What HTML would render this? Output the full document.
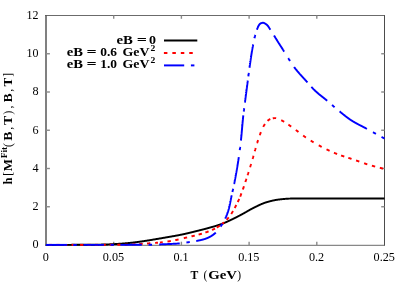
<!DOCTYPE html>
<html><head><meta charset="utf-8"><title>plot</title>
<style>html,body{margin:0;padding:0;background:#fff;overflow:hidden}body{width:407px;height:285px;position:relative;font-family:"Liberation Serif",serif}</style>
</head><body>
<svg width="407" height="285" viewBox="0 0 407 285" style="position:absolute;left:0;top:0;will-change:transform;opacity:0.999"><rect width="407" height="285" fill="#fff"/><g stroke-linecap="butt" fill="none"><line x1="46.0" y1="15.0" x2="46.0" y2="245.5" stroke="#808080" stroke-width="2"/><line x1="45.0" y1="15.5" x2="385.0" y2="15.5" stroke="#5a5a5a" stroke-width="0.9"/><line x1="384.5" y1="15.5" x2="384.5" y2="245.5" stroke="#383838" stroke-width="0.9"/><line x1="45.0" y1="245.3" x2="385.0" y2="245.3" stroke="#5a5a5a" stroke-width="0.9"/><line x1="113.70" y1="245.0" x2="113.70" y2="241.7" stroke="#8a8a8a" stroke-width="1.4"/><line x1="113.70" y1="15.5" x2="113.70" y2="18.8" stroke="#8a8a8a" stroke-width="1.4"/><line x1="181.40" y1="245.0" x2="181.40" y2="241.7" stroke="#8a8a8a" stroke-width="1.4"/><line x1="181.40" y1="15.5" x2="181.40" y2="18.8" stroke="#8a8a8a" stroke-width="1.4"/><line x1="249.10" y1="245.0" x2="249.10" y2="241.7" stroke="#8a8a8a" stroke-width="1.4"/><line x1="249.10" y1="15.5" x2="249.10" y2="18.8" stroke="#8a8a8a" stroke-width="1.4"/><line x1="316.80" y1="245.0" x2="316.80" y2="241.7" stroke="#8a8a8a" stroke-width="1.4"/><line x1="316.80" y1="15.5" x2="316.80" y2="18.8" stroke="#8a8a8a" stroke-width="1.4"/><line x1="46.0" y1="206.75" x2="49.9" y2="206.75" stroke="#8a8a8a" stroke-width="1.4"/><line x1="384.5" y1="206.75" x2="381.2" y2="206.75" stroke="#8a8a8a" stroke-width="1.4"/><line x1="46.0" y1="168.50" x2="49.9" y2="168.50" stroke="#8a8a8a" stroke-width="1.4"/><line x1="384.5" y1="168.50" x2="381.2" y2="168.50" stroke="#8a8a8a" stroke-width="1.4"/><line x1="46.0" y1="130.25" x2="49.9" y2="130.25" stroke="#8a8a8a" stroke-width="1.4"/><line x1="384.5" y1="130.25" x2="381.2" y2="130.25" stroke="#8a8a8a" stroke-width="1.4"/><line x1="46.0" y1="92.00" x2="49.9" y2="92.00" stroke="#8a8a8a" stroke-width="1.4"/><line x1="384.5" y1="92.00" x2="381.2" y2="92.00" stroke="#8a8a8a" stroke-width="1.4"/><line x1="46.0" y1="53.75" x2="49.9" y2="53.75" stroke="#8a8a8a" stroke-width="1.4"/><line x1="384.5" y1="53.75" x2="381.2" y2="53.75" stroke="#8a8a8a" stroke-width="1.4"/></g><g fill="none" stroke-width="1.95" stroke-linejoin="round"><path d="M45.90,244.90 L46.13,244.90 L46.36,244.90 L46.59,244.90 L46.82,244.90 L47.05,244.90 L47.29,244.90 L47.52,244.90 L47.75,244.90 L47.98,244.90 L48.21,244.90 L48.44,244.90 L48.67,244.90 L48.90,244.90 L49.13,244.90 L49.36,244.90 L49.59,244.90 L49.83,244.90 L50.06,244.90 L50.29,244.90 L50.52,244.90 L50.75,244.90 L50.98,244.90 L51.21,244.90 L51.44,244.90 L51.67,244.90 L51.90,244.90 L52.13,244.90 L52.37,244.90 L52.60,244.90 L52.83,244.90 L53.06,244.90 L53.29,244.90 L53.52,244.90 L53.75,244.89 L53.98,244.89 L54.21,244.89 L54.44,244.89 L54.68,244.89 L54.91,244.89 L55.14,244.89 L55.37,244.89 L55.60,244.89 L55.83,244.89 L56.06,244.89 L56.29,244.89 L56.52,244.89 L56.75,244.89 L56.98,244.89 L57.22,244.89 L57.45,244.89 L57.68,244.89 L57.91,244.89 L58.14,244.89 L58.37,244.89 L58.60,244.89 L58.83,244.89 L59.06,244.89 L59.29,244.88 L59.52,244.88 L59.75,244.88 L59.99,244.88 L60.22,244.88 L60.45,244.88 L60.68,244.88 L60.91,244.88 L61.14,244.88 L61.37,244.88 L61.60,244.88 L61.83,244.88 L62.06,244.88 L62.29,244.88 L62.53,244.88 L62.76,244.88 L62.99,244.88 L63.22,244.87 L63.45,244.87 L63.68,244.87 L63.91,244.87 L64.14,244.87 L64.37,244.87 L64.60,244.87 L64.83,244.87 L65.07,244.87 L65.30,244.87 L65.53,244.87 L65.76,244.87 L65.99,244.87 L66.22,244.87 L66.45,244.86 L66.68,244.86 L66.91,244.86 L67.14,244.86 L67.37,244.86 L67.61,244.86 L67.84,244.86 L68.07,244.86 L68.30,244.86 L68.53,244.86 L68.76,244.86 L68.99,244.85 L69.22,244.85 L69.45,244.85 L69.68,244.85 L69.91,244.85 L70.15,244.85 L70.38,244.85 L70.61,244.85 L70.84,244.85 L71.07,244.85 L71.30,244.85 L71.53,244.84 L71.76,244.84 L71.99,244.84 L72.22,244.84 L72.45,244.84 L72.68,244.84 L72.92,244.84 L73.15,244.84 L73.38,244.84 L73.61,244.84 L73.84,244.83 L74.07,244.83 L74.30,244.83 L74.53,244.83 L74.76,244.83 L74.99,244.83 L75.22,244.83 L75.46,244.83 L75.69,244.83 L75.92,244.82 L76.15,244.82 L76.38,244.82 L76.61,244.82 L76.84,244.82 L77.07,244.82 L77.30,244.82 L77.53,244.82 L77.76,244.81 L77.99,244.81 L78.23,244.81 L78.46,244.81 L78.69,244.81 L78.92,244.81 L79.15,244.81 L79.38,244.81 L79.61,244.80 L79.84,244.80 L80.07,244.80 L80.30,244.80 L80.53,244.80 L80.77,244.80 L81.00,244.80 L81.23,244.80 L81.46,244.79 L81.69,244.79 L81.92,244.79 L82.15,244.79 L82.38,244.79 L82.61,244.79 L82.84,244.79 L83.07,244.78 L83.30,244.78 L83.54,244.78 L83.77,244.78 L84.00,244.78 L84.23,244.78 L84.46,244.78 L84.69,244.77 L84.92,244.77 L85.15,244.77 L85.38,244.77 L85.61,244.77 L85.84,244.77 L86.08,244.77 L86.31,244.76 L86.54,244.76 L86.77,244.76 L87.00,244.76 L87.23,244.76 L87.46,244.76 L87.69,244.75 L87.92,244.75 L88.15,244.75 L88.38,244.75 L88.61,244.75 L88.85,244.75 L89.08,244.74 L89.31,244.74 L89.54,244.74 L89.77,244.74 L90.00,244.74 L90.23,244.74 L90.46,244.73 L90.69,244.73 L90.92,244.73 L91.15,244.73 L91.38,244.73 L91.62,244.73 L91.85,244.72 L92.08,244.72 L92.31,244.72 L92.54,244.72 L92.77,244.72 L93.00,244.72 L93.23,244.71 L93.46,244.71 L93.69,244.71 L93.92,244.71 L94.16,244.71 L94.39,244.70 L94.62,244.70 L94.85,244.70 L95.08,244.70 L95.31,244.70 L95.54,244.70 L95.77,244.69 L96.00,244.69 L96.23,244.69 L96.46,244.68 L96.69,244.68 L96.93,244.68 L97.16,244.68 L97.39,244.67 L97.62,244.67 L97.85,244.67 L98.08,244.66 L98.31,244.66 L98.54,244.65 L98.77,244.65 L99.00,244.64 L99.23,244.64 L99.46,244.64 L99.70,244.63 L99.93,244.63 L100.16,244.62 L100.39,244.62 L100.62,244.61 L100.85,244.61 L101.08,244.60 L101.31,244.59 L101.54,244.59 L101.77,244.58 L102.00,244.58 L102.24,244.57 L102.47,244.57 L102.70,244.56 L102.93,244.55 L103.16,244.55 L103.39,244.54 L103.62,244.53 L103.85,244.53 L104.08,244.52 L104.31,244.51 L104.54,244.51 L104.77,244.50 L105.01,244.49 L105.24,244.49 L105.47,244.48 L105.70,244.47 L105.93,244.47 L106.16,244.46 L106.39,244.45 L106.62,244.44 L106.85,244.44 L107.08,244.43 L107.31,244.42 L107.54,244.41 L107.77,244.41 L108.00,244.40 L108.24,244.39 L108.47,244.38 L108.70,244.38 L108.93,244.37 L109.16,244.36 L109.39,244.35 L109.62,244.34 L109.85,244.33 L110.08,244.32 L110.31,244.31 L110.54,244.30 L110.77,244.29 L111.00,244.28 L111.23,244.27 L111.46,244.26 L111.70,244.25 L111.93,244.24 L112.16,244.23 L112.39,244.21 L112.62,244.20 L112.85,244.19 L113.08,244.18 L113.31,244.16 L113.54,244.15 L113.77,244.14 L114.00,244.13 L114.23,244.11 L114.46,244.10 L114.69,244.09 L114.92,244.07 L115.15,244.06 L115.38,244.05 L115.62,244.03 L115.85,244.02 L116.08,244.00 L116.31,243.99 L116.54,243.98 L116.77,243.96 L117.00,243.95 L117.23,243.93 L117.46,243.92 L117.69,243.90 L117.92,243.89 L118.15,243.87 L118.38,243.86 L118.61,243.84 L118.84,243.83 L119.07,243.81 L119.30,243.80 L119.53,243.78 L119.76,243.77 L119.99,243.75 L120.22,243.74 L120.45,243.72 L120.68,243.71 L120.91,243.69 L121.14,243.67 L121.37,243.66 L121.61,243.64 L121.84,243.62 L122.07,243.60 L122.30,243.59 L122.53,243.57 L122.76,243.55 L122.99,243.53 L123.22,243.51 L123.45,243.50 L123.68,243.48 L123.91,243.46 L124.14,243.44 L124.37,243.42 L124.60,243.40 L124.83,243.38 L125.06,243.36 L125.29,243.34 L125.52,243.32 L125.75,243.30 L125.98,243.28 L126.21,243.26 L126.44,243.24 L126.67,243.22 L126.90,243.20 L127.13,243.18 L127.36,243.16 L127.59,243.13 L127.82,243.11 L128.05,243.09 L128.28,243.07 L128.51,243.05 L128.74,243.02 L128.97,243.00 L129.20,242.98 L129.43,242.96 L129.66,242.93 L129.89,242.91 L130.12,242.89 L130.35,242.86 L130.57,242.84 L130.80,242.82 L131.03,242.79 L131.26,242.77 L131.49,242.74 L131.72,242.72 L131.95,242.69 L132.18,242.67 L132.41,242.64 L132.64,242.61 L132.87,242.59 L133.10,242.56 L133.33,242.53 L133.56,242.50 L133.79,242.48 L134.02,242.45 L134.24,242.42 L134.47,242.39 L134.70,242.36 L134.93,242.33 L135.16,242.30 L135.39,242.27 L135.62,242.25 L135.85,242.22 L136.08,242.19 L136.31,242.16 L136.54,242.13 L136.76,242.10 L136.99,242.07 L137.22,242.04 L137.45,242.01 L137.68,241.98 L137.91,241.95 L138.14,241.91 L138.37,241.88 L138.60,241.85 L138.82,241.82 L139.05,241.79 L139.28,241.76 L139.51,241.73 L139.74,241.70 L139.97,241.67 L140.20,241.64 L140.43,241.61 L140.65,241.57 L140.88,241.54 L141.11,241.51 L141.34,241.48 L141.57,241.44 L141.80,241.41 L142.03,241.38 L142.25,241.35 L142.48,241.31 L142.71,241.28 L142.94,241.25 L143.17,241.21 L143.40,241.18 L143.63,241.14 L143.85,241.11 L144.08,241.08 L144.31,241.04 L144.54,241.01 L144.77,240.97 L145.00,240.94 L145.22,240.90 L145.45,240.87 L145.68,240.83 L145.91,240.80 L146.14,240.76 L146.36,240.73 L146.59,240.69 L146.82,240.66 L147.05,240.62 L147.28,240.59 L147.51,240.55 L147.73,240.52 L147.96,240.48 L148.19,240.44 L148.42,240.41 L148.65,240.37 L148.87,240.34 L149.10,240.30 L149.33,240.26 L149.56,240.23 L149.79,240.19 L150.01,240.15 L150.24,240.11 L150.47,240.08 L150.70,240.04 L150.92,240.00 L151.15,239.96 L151.38,239.93 L151.61,239.89 L151.84,239.85 L152.06,239.81 L152.29,239.77 L152.52,239.73 L152.75,239.70 L152.97,239.66 L153.20,239.62 L153.43,239.58 L153.66,239.54 L153.88,239.50 L154.11,239.47 L154.34,239.43 L154.57,239.39 L154.80,239.35 L155.02,239.31 L155.25,239.27 L155.48,239.23 L155.71,239.19 L155.93,239.15 L156.16,239.12 L156.39,239.08 L156.62,239.04 L156.84,239.00 L157.07,238.96 L157.30,238.92 L157.53,238.88 L157.75,238.84 L157.98,238.81 L158.21,238.77 L158.44,238.73 L158.66,238.69 L158.89,238.65 L159.12,238.61 L159.35,238.57 L159.57,238.53 L159.80,238.50 L160.03,238.46 L160.26,238.42 L160.49,238.38 L160.71,238.34 L160.94,238.30 L161.17,238.26 L161.40,238.22 L161.62,238.18 L161.85,238.14 L162.08,238.10 L162.31,238.07 L162.53,238.03 L162.76,237.99 L162.99,237.95 L163.22,237.91 L163.44,237.87 L163.67,237.83 L163.90,237.79 L164.13,237.75 L164.35,237.71 L164.58,237.67 L164.81,237.63 L165.03,237.59 L165.26,237.55 L165.49,237.51 L165.72,237.47 L165.95,237.43 L166.17,237.39 L166.40,237.35 L166.63,237.31 L166.86,237.27 L167.08,237.23 L167.31,237.19 L167.54,237.16 L167.77,237.12 L167.99,237.08 L168.22,237.04 L168.45,237.00 L168.68,236.96 L168.90,236.92 L169.13,236.88 L169.36,236.84 L169.59,236.80 L169.81,236.76 L170.04,236.73 L170.27,236.69 L170.50,236.65 L170.73,236.61 L170.95,236.57 L171.18,236.53 L171.41,236.49 L171.64,236.45 L171.86,236.41 L172.09,236.37 L172.32,236.33 L172.55,236.29 L172.77,236.25 L173.00,236.21 L173.23,236.17 L173.46,236.13 L173.68,236.09 L173.91,236.05 L174.14,236.01 L174.37,235.97 L174.59,235.93 L174.82,235.89 L175.05,235.85 L175.28,235.81 L175.50,235.77 L175.73,235.73 L175.96,235.69 L176.18,235.65 L176.41,235.60 L176.64,235.56 L176.87,235.52 L177.09,235.48 L177.32,235.44 L177.55,235.39 L177.77,235.35 L178.00,235.31 L178.23,235.27 L178.45,235.22 L178.68,235.18 L178.91,235.14 L179.13,235.09 L179.36,235.05 L179.59,235.00 L179.81,234.96 L180.04,234.91 L180.27,234.87 L180.49,234.82 L180.72,234.78 L180.94,234.73 L181.17,234.69 L181.40,234.64 L181.62,234.60 L181.85,234.55 L182.07,234.50 L182.30,234.45 L182.52,234.41 L182.75,234.36 L182.98,234.31 L183.20,234.26 L183.43,234.21 L183.65,234.17 L183.88,234.12 L184.10,234.07 L184.33,234.02 L184.55,233.97 L184.78,233.92 L185.00,233.87 L185.23,233.82 L185.46,233.77 L185.68,233.71 L185.91,233.66 L186.13,233.61 L186.36,233.56 L186.58,233.51 L186.81,233.46 L187.03,233.40 L187.26,233.35 L187.48,233.30 L187.70,233.25 L187.93,233.19 L188.15,233.14 L188.38,233.09 L188.60,233.03 L188.83,232.98 L189.05,232.93 L189.28,232.87 L189.50,232.82 L189.73,232.76 L189.95,232.71 L190.18,232.65 L190.40,232.60 L190.62,232.54 L190.85,232.49 L191.07,232.43 L191.30,232.38 L191.52,232.32 L191.75,232.27 L191.97,232.21 L192.19,232.16 L192.42,232.10 L192.64,232.05 L192.87,231.99 L193.09,231.93 L193.32,231.88 L193.54,231.82 L193.76,231.77 L193.99,231.71 L194.21,231.65 L194.44,231.60 L194.66,231.54 L194.88,231.48 L195.11,231.43 L195.33,231.37 L195.56,231.32 L195.78,231.26 L196.00,231.20 L196.23,231.15 L196.45,231.09 L196.68,231.03 L196.90,230.98 L197.12,230.92 L197.35,230.86 L197.57,230.81 L197.80,230.75 L198.02,230.70 L198.24,230.64 L198.47,230.58 L198.69,230.53 L198.92,230.47 L199.14,230.42 L199.36,230.36 L199.59,230.30 L199.81,230.25 L200.03,230.19 L200.26,230.13 L200.48,230.08 L200.71,230.02 L200.93,229.97 L201.15,229.91 L201.38,229.85 L201.60,229.80 L201.83,229.74 L202.05,229.68 L202.27,229.63 L202.50,229.57 L202.72,229.51 L202.95,229.46 L203.17,229.40 L203.39,229.34 L203.62,229.29 L203.84,229.23 L204.07,229.17 L204.29,229.11 L204.51,229.06 L204.74,229.00 L204.96,228.94 L205.18,228.88 L205.41,228.82 L205.63,228.77 L205.85,228.71 L206.08,228.65 L206.30,228.59 L206.52,228.53 L206.75,228.47 L206.97,228.41 L207.19,228.35 L207.42,228.29 L207.64,228.23 L207.86,228.17 L208.08,228.11 L208.31,228.05 L208.53,227.99 L208.75,227.93 L208.98,227.87 L209.20,227.81 L209.42,227.75 L209.64,227.68 L209.86,227.62 L210.09,227.56 L210.31,227.50 L210.53,227.43 L210.75,227.37 L210.97,227.31 L211.20,227.24 L211.42,227.18 L211.64,227.12 L211.86,227.05 L212.08,226.99 L212.31,226.92 L212.53,226.86 L212.75,226.80 L212.97,226.73 L213.19,226.67 L213.42,226.60 L213.64,226.54 L213.86,226.47 L214.08,226.41 L214.30,226.34 L214.53,226.28 L214.75,226.21 L214.97,226.14 L215.19,226.08 L215.41,226.01 L215.63,225.94 L215.86,225.88 L216.08,225.81 L216.30,225.74 L216.52,225.67 L216.74,225.60 L216.96,225.54 L217.18,225.47 L217.40,225.40 L217.62,225.33 L217.84,225.26 L218.06,225.19 L218.28,225.11 L218.50,225.04 L218.72,224.97 L218.94,224.90 L219.16,224.83 L219.38,224.75 L219.60,224.68 L219.81,224.60 L220.03,224.53 L220.25,224.45 L220.47,224.38 L220.68,224.30 L220.90,224.23 L221.12,224.15 L221.34,224.07 L221.55,223.99 L221.77,223.91 L221.98,223.83 L222.20,223.75 L222.41,223.67 L222.63,223.59 L222.84,223.50 L223.06,223.42 L223.27,223.34 L223.48,223.25 L223.70,223.16 L223.91,223.08 L224.13,222.99 L224.34,222.90 L224.55,222.81 L224.76,222.72 L224.98,222.63 L225.19,222.54 L225.40,222.45 L225.61,222.36 L225.82,222.26 L226.04,222.17 L226.25,222.08 L226.46,221.98 L226.67,221.89 L226.88,221.79 L227.09,221.70 L227.30,221.60 L227.51,221.51 L227.72,221.41 L227.93,221.31 L228.14,221.22 L228.35,221.12 L228.56,221.02 L228.77,220.92 L228.98,220.83 L229.19,220.73 L229.40,220.63 L229.61,220.53 L229.82,220.43 L230.03,220.33 L230.24,220.24 L230.45,220.14 L230.66,220.04 L230.87,219.94 L231.07,219.84 L231.28,219.74 L231.49,219.64 L231.70,219.54 L231.91,219.44 L232.12,219.34 L232.33,219.25 L232.53,219.15 L232.74,219.05 L232.95,218.95 L233.16,218.84 L233.36,218.74 L233.57,218.64 L233.78,218.54 L233.99,218.44 L234.19,218.34 L234.40,218.23 L234.61,218.13 L234.81,218.03 L235.02,217.92 L235.22,217.82 L235.43,217.71 L235.64,217.61 L235.84,217.51 L236.05,217.40 L236.25,217.30 L236.46,217.19 L236.66,217.08 L236.87,216.98 L237.08,216.87 L237.28,216.77 L237.49,216.66 L237.69,216.55 L237.90,216.45 L238.10,216.34 L238.31,216.23 L238.51,216.13 L238.71,216.02 L238.92,215.91 L239.12,215.80 L239.33,215.70 L239.53,215.59 L239.74,215.48 L239.94,215.37 L240.14,215.26 L240.35,215.16 L240.55,215.05 L240.76,214.94 L240.96,214.83 L241.17,214.72 L241.37,214.62 L241.57,214.51 L241.78,214.40 L241.98,214.29 L242.18,214.18 L242.39,214.07 L242.59,213.96 L242.79,213.85 L242.99,213.74 L243.19,213.62 L243.40,213.51 L243.60,213.40 L243.80,213.28 L244.00,213.17 L244.20,213.06 L244.40,212.94 L244.60,212.83 L244.81,212.71 L245.01,212.60 L245.21,212.49 L245.41,212.37 L245.61,212.25 L245.81,212.14 L246.01,212.02 L246.21,211.91 L246.41,211.79 L246.61,211.68 L246.81,211.56 L247.01,211.45 L247.21,211.33 L247.41,211.22 L247.61,211.10 L247.81,210.99 L248.01,210.87 L248.21,210.76 L248.41,210.64 L248.61,210.53 L248.82,210.41 L249.02,210.30 L249.22,210.19 L249.42,210.07 L249.62,209.96 L249.82,209.85 L250.02,209.73 L250.23,209.62 L250.43,209.51 L250.63,209.40 L250.83,209.29 L251.04,209.18 L251.24,209.07 L251.44,208.96 L251.64,208.85 L251.85,208.74 L252.05,208.64 L252.26,208.53 L252.46,208.42 L252.67,208.32 L252.87,208.21 L253.08,208.11 L253.28,208.01 L253.49,207.90 L253.69,207.80 L253.90,207.70 L254.11,207.60 L254.32,207.50 L254.52,207.39 L254.73,207.29 L254.94,207.19 L255.14,207.09 L255.35,206.98 L255.56,206.88 L255.77,206.78 L255.97,206.67 L256.18,206.57 L256.39,206.47 L256.60,206.37 L256.81,206.26 L257.02,206.16 L257.22,206.06 L257.43,205.96 L257.64,205.85 L257.85,205.75 L258.06,205.65 L258.27,205.55 L258.48,205.45 L258.69,205.35 L258.90,205.25 L259.11,205.15 L259.32,205.05 L259.53,204.95 L259.74,204.85 L259.95,204.76 L260.16,204.66 L260.38,204.56 L260.59,204.47 L260.80,204.37 L261.01,204.28 L261.22,204.19 L261.44,204.10 L261.65,204.00 L261.86,203.91 L262.08,203.82 L262.29,203.74 L262.50,203.65 L262.72,203.56 L262.93,203.48 L263.14,203.39 L263.36,203.31 L263.57,203.23 L263.79,203.15 L264.00,203.07 L264.22,202.99 L264.44,202.91 L264.65,202.84 L264.87,202.76 L265.09,202.69 L265.30,202.62 L265.52,202.55 L265.74,202.48 L265.96,202.41 L266.17,202.35 L266.39,202.28 L266.61,202.22 L266.83,202.15 L267.05,202.09 L267.27,202.02 L267.49,201.96 L267.71,201.90 L267.93,201.83 L268.16,201.77 L268.38,201.71 L268.60,201.64 L268.82,201.58 L269.05,201.52 L269.27,201.46 L269.49,201.40 L269.72,201.34 L269.94,201.28 L270.16,201.22 L270.39,201.16 L270.61,201.11 L270.84,201.05 L271.06,200.99 L271.29,200.94 L271.52,200.88 L271.74,200.83 L271.97,200.77 L272.19,200.72 L272.42,200.67 L272.65,200.61 L272.87,200.56 L273.10,200.51 L273.33,200.46 L273.55,200.41 L273.78,200.36 L274.01,200.32 L274.24,200.27 L274.46,200.23 L274.69,200.18 L274.92,200.14 L275.15,200.09 L275.37,200.05 L275.60,200.01 L275.83,199.97 L276.06,199.93 L276.29,199.89 L276.51,199.86 L276.74,199.82 L276.97,199.78 L277.20,199.75 L277.43,199.72 L277.65,199.68 L277.88,199.65 L278.11,199.62 L278.34,199.60 L278.56,199.57 L278.79,199.54 L279.02,199.51 L279.25,199.48 L279.48,199.46 L279.70,199.43 L279.93,199.40 L280.16,199.38 L280.39,199.35 L280.62,199.32 L280.85,199.30 L281.08,199.27 L281.31,199.25 L281.54,199.22 L281.77,199.20 L282.00,199.17 L282.23,199.15 L282.46,199.13 L282.69,199.10 L282.92,199.08 L283.15,199.06 L283.38,199.04 L283.61,199.01 L283.84,198.99 L284.07,198.97 L284.30,198.95 L284.53,198.93 L284.76,198.91 L284.99,198.89 L285.22,198.87 L285.45,198.86 L285.68,198.84 L285.92,198.82 L286.15,198.80 L286.38,198.79 L286.61,198.77 L286.84,198.76 L287.07,198.74 L287.30,198.73 L287.53,198.71 L287.76,198.70 L287.99,198.69 L288.22,198.67 L288.45,198.66 L288.69,198.65 L288.92,198.64 L289.15,198.63 L289.38,198.62 L289.61,198.61 L289.84,198.61 L290.07,198.60 L290.30,198.59 L290.53,198.58 L290.76,198.58 L290.99,198.57 L291.22,198.56 L291.45,198.55 L291.68,198.55 L291.91,198.54 L292.14,198.53 L292.38,198.53 L292.61,198.52 L292.84,198.51 L293.07,198.51 L293.30,198.50 L293.53,198.50 L293.76,198.49 L293.99,198.48 L294.22,198.48 L294.45,198.47 L294.68,198.47 L294.91,198.46 L295.15,198.46 L295.38,198.45 L295.61,198.45 L295.84,198.44 L296.07,198.44 L296.30,198.43 L296.53,198.43 L296.76,198.43 L296.99,198.42 L297.22,198.42 L297.46,198.42 L297.69,198.41 L297.92,198.41 L298.15,198.41 L298.38,198.41 L298.61,198.41 L298.84,198.40 L299.07,198.40 L299.30,198.40 L299.53,198.40 L299.76,198.40 L300.00,198.40 L300.23,198.40 L300.46,198.40 L300.69,198.40 L300.92,198.40 L301.15,198.40 L301.38,198.40 L301.61,198.40 L301.84,198.40 L302.07,198.40 L302.30,198.40 L302.53,198.40 L302.77,198.40 L303.00,198.40 L303.23,198.40 L303.46,198.40 L303.69,198.40 L303.92,198.40 L304.15,198.40 L304.38,198.40 L304.61,198.40 L304.84,198.40 L305.07,198.40 L305.31,198.40 L305.54,198.40 L305.77,198.40 L306.00,198.40 L306.23,198.40 L306.46,198.40 L306.69,198.40 L306.92,198.40 L307.15,198.40 L307.38,198.40 L307.61,198.40 L307.85,198.40 L308.08,198.40 L308.31,198.40 L308.54,198.40 L308.77,198.40 L309.00,198.40 L309.23,198.40 L309.46,198.40 L309.69,198.40 L309.92,198.40 L310.15,198.40 L310.38,198.40 L310.62,198.40 L310.85,198.40 L311.08,198.40 L311.31,198.40 L311.54,198.40 L311.77,198.40 L312.00,198.40 L312.23,198.40 L312.46,198.40 L312.69,198.40 L312.92,198.40 L313.16,198.40 L313.39,198.40 L313.62,198.40 L313.85,198.40 L314.08,198.40 L314.31,198.40 L314.54,198.40 L314.77,198.40 L315.00,198.40 L315.23,198.40 L315.46,198.40 L315.70,198.40 L315.93,198.40 L316.16,198.40 L316.39,198.40 L316.62,198.40 L316.85,198.40 L317.08,198.40 L317.31,198.40 L317.54,198.40 L317.77,198.40 L318.00,198.40 L318.23,198.40 L318.47,198.40 L318.70,198.40 L318.93,198.40 L319.16,198.40 L319.39,198.40 L319.62,198.40 L319.85,198.40 L320.08,198.40 L320.31,198.40 L320.54,198.40 L320.77,198.40 L321.01,198.40 L321.24,198.40 L321.47,198.40 L321.70,198.40 L321.93,198.40 L322.16,198.40 L322.39,198.40 L322.62,198.40 L322.85,198.40 L323.08,198.40 L323.31,198.40 L323.55,198.40 L323.78,198.40 L324.01,198.40 L324.24,198.40 L324.47,198.40 L324.70,198.40 L324.93,198.40 L325.16,198.40 L325.39,198.40 L325.62,198.40 L325.85,198.40 L326.09,198.40 L326.32,198.40 L326.55,198.40 L326.78,198.40 L327.01,198.40 L327.24,198.40 L327.47,198.40 L327.70,198.40 L327.93,198.40 L328.16,198.40 L328.39,198.40 L328.63,198.40 L328.86,198.40 L329.09,198.40 L329.32,198.40 L329.55,198.40 L329.78,198.40 L330.01,198.40 L330.24,198.40 L330.47,198.40 L330.70,198.40 L330.93,198.40 L331.16,198.40 L331.40,198.40 L331.63,198.40 L331.86,198.40 L332.09,198.40 L332.32,198.40 L332.55,198.40 L332.78,198.40 L333.01,198.40 L333.24,198.40 L333.47,198.40 L333.70,198.40 L333.94,198.40 L334.17,198.40 L334.40,198.40 L334.63,198.40 L334.86,198.40 L335.09,198.40 L335.32,198.40 L335.55,198.40 L335.78,198.40 L336.01,198.40 L336.24,198.40 L336.48,198.40 L336.71,198.40 L336.94,198.40 L337.17,198.40 L337.40,198.40 L337.63,198.40 L337.86,198.40 L338.09,198.40 L338.32,198.40 L338.55,198.40 L338.78,198.40 L339.02,198.40 L339.25,198.40 L339.48,198.40 L339.71,198.40 L339.94,198.40 L340.17,198.40 L340.40,198.40 L340.63,198.40 L340.86,198.40 L341.09,198.40 L341.32,198.40 L341.56,198.40 L341.79,198.40 L342.02,198.40 L342.25,198.40 L342.48,198.40 L342.71,198.40 L342.94,198.40 L343.17,198.40 L343.40,198.40 L343.63,198.40 L343.86,198.40 L344.09,198.40 L344.33,198.40 L344.56,198.40 L344.79,198.40 L345.02,198.40 L345.25,198.40 L345.48,198.40 L345.71,198.40 L345.94,198.40 L346.17,198.40 L346.40,198.40 L346.63,198.40 L346.87,198.40 L347.10,198.40 L347.33,198.40 L347.56,198.40 L347.79,198.40 L348.02,198.40 L348.25,198.40 L348.48,198.40 L348.71,198.40 L348.94,198.40 L349.17,198.40 L349.41,198.40 L349.64,198.40 L349.87,198.40 L350.10,198.40 L350.33,198.40 L350.56,198.40 L350.79,198.40 L351.02,198.40 L351.25,198.40 L351.48,198.40 L351.71,198.40 L351.94,198.40 L352.18,198.40 L352.41,198.40 L352.64,198.40 L352.87,198.40 L353.10,198.40 L353.33,198.40 L353.56,198.40 L353.79,198.40 L354.02,198.40 L354.25,198.40 L354.48,198.40 L354.72,198.40 L354.95,198.40 L355.18,198.40 L355.41,198.40 L355.64,198.40 L355.87,198.40 L356.10,198.40 L356.33,198.40 L356.56,198.40 L356.79,198.40 L357.02,198.40 L357.26,198.40 L357.49,198.40 L357.72,198.40 L357.95,198.40 L358.18,198.40 L358.41,198.40 L358.64,198.40 L358.87,198.40 L359.10,198.40 L359.33,198.40 L359.56,198.40 L359.80,198.40 L360.03,198.40 L360.26,198.40 L360.49,198.40 L360.72,198.40 L360.95,198.40 L361.18,198.40 L361.41,198.40 L361.64,198.40 L361.87,198.40 L362.10,198.40 L362.33,198.40 L362.57,198.40 L362.80,198.40 L363.03,198.40 L363.26,198.40 L363.49,198.40 L363.72,198.40 L363.95,198.40 L364.18,198.40 L364.41,198.40 L364.64,198.40 L364.87,198.40 L365.11,198.40 L365.34,198.40 L365.57,198.40 L365.80,198.40 L366.03,198.40 L366.26,198.40 L366.49,198.40 L366.72,198.40 L366.95,198.40 L367.18,198.40 L367.41,198.40 L367.65,198.40 L367.88,198.40 L368.11,198.40 L368.34,198.40 L368.57,198.40 L368.80,198.40 L369.03,198.40 L369.26,198.40 L369.49,198.40 L369.72,198.40 L369.95,198.40 L370.19,198.40 L370.42,198.40 L370.65,198.40 L370.88,198.40 L371.11,198.40 L371.34,198.40 L371.57,198.40 L371.80,198.40 L372.03,198.40 L372.26,198.40 L372.49,198.40 L372.72,198.40 L372.96,198.40 L373.19,198.40 L373.42,198.40 L373.65,198.40 L373.88,198.40 L374.11,198.40 L374.34,198.40 L374.57,198.40 L374.80,198.40 L375.03,198.40 L375.26,198.40 L375.50,198.40 L375.73,198.40 L375.96,198.40 L376.19,198.40 L376.42,198.40 L376.65,198.40 L376.88,198.40 L377.11,198.40 L377.34,198.40 L377.57,198.40 L377.80,198.40 L378.04,198.40 L378.27,198.40 L378.50,198.40 L378.73,198.40 L378.96,198.40 L379.19,198.40 L379.42,198.40 L379.65,198.40 L379.88,198.40 L380.11,198.40 L380.34,198.40 L380.57,198.40 L380.81,198.40 L381.04,198.40 L381.27,198.40 L381.50,198.40 L381.73,198.40 L381.96,198.40 L382.19,198.40 L382.42,198.40 L382.65,198.40 L382.88,198.40 L383.11,198.40 L383.35,198.40 L383.58,198.40 L383.81,198.40 L384.04,198.40 L384.27,198.40 L384.50,198.40" stroke="#000"/><g stroke="#ff0000"><path d="M48.73,244.90 L49.01,244.90 L49.29,244.90 L49.57,244.90 L49.86,244.90 L50.14,244.90 L50.42,244.90 L50.70,244.90 L50.99,244.90 L51.27,244.90 L51.55,244.90 L51.83,244.90 L52.12,244.90"/><path d="M56.35,244.90 L56.64,244.90 L56.92,244.90 L57.20,244.90 L57.48,244.90 L57.77,244.90 L58.05,244.90 L58.33,244.90 L58.61,244.90 L58.90,244.90 L59.18,244.90 L59.46,244.90 L59.74,244.90"/><path d="M63.98,244.90 L64.26,244.90 L64.55,244.90 L64.83,244.90 L65.11,244.90 L65.39,244.90 L65.68,244.90 L65.96,244.89 L66.24,244.89 L66.52,244.89 L66.81,244.89 L67.09,244.89 L67.37,244.89"/><path d="M71.61,244.89 L71.89,244.89 L72.17,244.89 L72.45,244.89 L72.74,244.89 L73.02,244.89 L73.30,244.89 L73.58,244.89 L73.87,244.89 L74.15,244.89 L74.43,244.89 L74.71,244.89 L75.00,244.89"/><path d="M80.08,244.88 L80.36,244.88 L80.64,244.88 L80.93,244.88 L81.21,244.88 L81.49,244.88 L81.77,244.88 L82.06,244.88 L82.34,244.88 L82.62,244.88 L82.90,244.88 L83.19,244.88 L83.47,244.88"/><path d="M87.42,244.87 L87.70,244.87 L87.99,244.87 L88.27,244.87 L88.55,244.87 L88.83,244.87 L89.12,244.87 L89.40,244.87 L89.68,244.87 L89.96,244.87 L90.25,244.87 L90.53,244.87 L90.81,244.87"/><path d="M94.76,244.86 L95.05,244.86 L95.33,244.86 L95.61,244.86 L95.89,244.86 L96.18,244.86 L96.46,244.86 L96.74,244.86 L97.02,244.86 L97.31,244.86 L97.59,244.86 L97.87,244.86 L98.15,244.86"/><path d="M102.39,244.85 L102.67,244.85 L102.95,244.85 L103.24,244.85 L103.52,244.85 L103.80,244.84 L104.08,244.84 L104.36,244.84 L104.65,244.84 L104.93,244.84 L105.21,244.84 L105.49,244.84 L105.78,244.84"/><path d="M109.73,244.83 L110.01,244.83 L110.29,244.83 L110.58,244.83 L110.86,244.83 L111.14,244.83 L111.42,244.83 L111.71,244.82 L111.99,244.82 L112.27,244.82 L112.55,244.82 L112.83,244.82 L113.12,244.82"/><path d="M117.35,244.81 L117.63,244.81 L117.92,244.81 L118.20,244.81 L118.48,244.80 L118.76,244.80 L119.05,244.80 L119.33,244.80 L119.61,244.80 L119.89,244.80 L120.18,244.80 L120.46,244.80 L120.74,244.80"/><path d="M124.69,244.72 L124.98,244.71 L125.26,244.71 L125.54,244.70 L125.82,244.69 L126.10,244.68 L126.39,244.67 L126.67,244.66 L126.95,244.65 L127.23,244.64 L127.52,244.63 L127.80,244.62 L128.08,244.61"/><path d="M132.03,244.44 L132.31,244.42 L132.60,244.41 L132.88,244.40 L133.16,244.38 L133.44,244.37 L133.72,244.36 L134.01,244.35 L134.29,244.33 L134.57,244.32 L134.85,244.31 L135.14,244.29 L135.42,244.28"/><path d="M139.36,244.05 L139.65,244.03 L139.93,244.01 L140.21,244.00 L140.49,243.98 L140.77,243.96 L141.05,243.94 L141.34,243.92 L141.62,243.90 L141.90,243.88 L142.18,243.86 L142.46,243.83 L142.74,243.81"/><path d="M146.97,243.50 L147.25,243.48 L147.53,243.46 L147.82,243.44 L148.10,243.42 L148.38,243.40 L148.66,243.38 L148.94,243.36 L149.22,243.34 L149.51,243.32 L149.79,243.30 L150.07,243.28 L150.35,243.26"/><path d="M155.14,242.92 L155.42,242.90 L155.71,242.87 L155.99,242.85 L156.27,242.83 L156.55,242.81 L156.83,242.78 L157.11,242.76 L157.39,242.74 L157.68,242.71 L157.96,242.69"/><path d="M159.92,242.51 L160.21,242.48 L160.49,242.45 L160.77,242.42 L161.05,242.40 L161.33,242.37 L161.61,242.34 L161.89,242.30 L162.17,242.27 L162.45,242.24 L162.73,242.20"/><path d="M167.49,241.53 L167.77,241.49 L168.04,241.45 L168.32,241.40 L168.60,241.36 L168.88,241.31 L169.16,241.27 L169.44,241.23 L169.72,241.18 L170.00,241.14 L170.28,241.09 L170.55,241.04 L170.83,241.00"/><path d="M175.27,240.17 L175.55,240.11 L175.83,240.05 L176.10,240.00 L176.38,239.94 L176.66,239.88 L176.93,239.82 L177.21,239.76 L177.48,239.70 L177.76,239.63 L178.03,239.57 L178.31,239.51 L178.58,239.45"/><path d="M183.80,238.19 L184.08,238.12 L184.35,238.05 L184.63,237.99 L184.90,237.92 L185.18,237.86 L185.45,237.79 L185.73,237.73 L186.00,237.66 L186.28,237.60 L186.55,237.54 L186.83,237.47 L187.10,237.41"/><path d="M191.50,236.39 L191.78,236.32 L192.05,236.26 L192.33,236.19 L192.60,236.13 L192.88,236.06 L193.15,235.99 L193.43,235.93 L193.70,235.86 L193.98,235.79 L194.25,235.72 L194.52,235.66 L194.80,235.59"/><path d="M198.62,234.58 L198.89,234.51 L199.17,234.43 L199.44,234.36 L199.71,234.28 L199.98,234.20 L200.26,234.13 L200.53,234.05 L200.80,233.97 L201.07,233.89 L201.34,233.81 L201.61,233.74 L201.89,233.65"/><path d="M205.38,232.54 L205.64,232.45 L205.91,232.35 L206.18,232.26 L206.45,232.17 L206.71,232.07 L206.98,231.98 L207.25,231.88 L207.51,231.78 L207.78,231.68 L208.05,231.59 L208.31,231.49 L208.58,231.38"/><path d="M211.97,229.98 L212.23,229.86 L212.48,229.74 L212.74,229.63 L212.99,229.51 L213.24,229.38 L213.49,229.26 L213.74,229.14 L214.00,229.01 L214.25,228.89 L214.50,228.76 L214.75,228.63 L215.01,228.49"/><path d="M216.75,227.53 L217.00,227.39 L217.25,227.25 L217.49,227.10 L217.74,226.96 L217.98,226.81 L218.23,226.66 L218.47,226.51 L218.71,226.36 L218.95,226.20 L219.19,226.05 L219.42,225.89 L219.66,225.74"/><path d="M221.49,224.44 L221.71,224.27 L221.93,224.10 L222.14,223.93 L222.36,223.76 L222.58,223.58 L222.80,223.40 L223.01,223.22 L223.23,223.04 L223.44,222.86 L223.65,222.67 L223.87,222.48 L224.08,222.29"/><path d="M226.53,219.89 L226.73,219.68 L226.92,219.47 L227.11,219.26 L227.30,219.05 L227.49,218.84 L227.68,218.62 L227.86,218.41 L228.05,218.19 L228.23,217.98 L228.41,217.76 L228.58,217.55 L228.76,217.33"/><path d="M231.22,213.94 L231.37,213.71 L231.52,213.47 L231.68,213.23 L231.83,212.99 L231.98,212.75 L232.13,212.51 L232.28,212.27 L232.43,212.03 L232.58,211.79 L232.72,211.54 L232.87,211.30 L233.01,211.05"/><path d="M234.69,208.07 L234.82,207.82 L234.96,207.56 L235.09,207.31 L235.23,207.06 L235.36,206.81 L235.49,206.56 L235.62,206.31 L235.75,206.06 L235.88,205.80 L236.01,205.55 L236.14,205.30 L236.27,205.05"/><path d="M237.77,202.02 L237.89,201.77 L238.01,201.51 L238.12,201.25 L238.24,201.00 L238.36,200.74 L238.48,200.48 L238.60,200.23 L238.71,199.97 L238.83,199.71 L238.94,199.45 L239.06,199.19 L239.17,198.93"/><path d="M240.17,196.59 L240.27,196.32 L240.38,196.06 L240.49,195.80 L240.59,195.54 L240.70,195.28 L240.81,195.01 L240.91,194.75 L241.01,194.49 L241.12,194.23 L241.22,193.96 L241.32,193.70 L241.42,193.44"/><path d="M242.88,189.47 L242.97,189.20 L243.06,188.93 L243.15,188.66 L243.24,188.40 L243.33,188.13 L243.42,187.86 L243.51,187.59 L243.60,187.33 L243.69,187.06 L243.78,186.79 L243.87,186.52 L243.96,186.25"/><path d="M245.36,181.95 L245.45,181.68 L245.54,181.41 L245.63,181.15 L245.71,180.88 L245.80,180.61 L245.89,180.34 L245.98,180.07 L246.06,179.80 L246.15,179.54 L246.24,179.27 L246.33,179.00 L246.42,178.73"/><path d="M247.55,175.24 L247.63,174.97 L247.72,174.70 L247.80,174.43 L247.89,174.16 L247.98,173.89 L248.06,173.62 L248.15,173.35 L248.23,173.08 L248.32,172.82 L248.40,172.55 L248.49,172.28 L248.58,172.01"/><path d="M250.10,167.16 L250.18,166.89 L250.26,166.62 L250.35,166.35 L250.43,166.08 L250.51,165.81 L250.60,165.54 L250.68,165.27 L250.76,165.00 L250.85,164.73 L250.93,164.46 L251.01,164.19 L251.09,163.92"/><path d="M252.56,159.05 L252.64,158.78 L252.71,158.51 L252.79,158.24 L252.87,157.96 L252.95,157.69 L253.03,157.42 L253.10,157.15 L253.18,156.88 L253.26,156.60 L253.33,156.33 L253.41,156.06 L253.49,155.79"/><path d="M254.78,151.16 L254.86,150.89 L254.93,150.62 L255.01,150.35 L255.09,150.07 L255.16,149.80 L255.24,149.53 L255.32,149.26 L255.39,148.99 L255.47,148.71 L255.55,148.44 L255.63,148.17 L255.70,147.90"/><path d="M257.07,143.30 L257.16,143.03 L257.24,142.76 L257.32,142.49 L257.41,142.22 L257.49,141.95 L257.58,141.68 L257.67,141.42 L257.75,141.15 L257.84,140.88 L257.93,140.61 L258.02,140.34 L258.11,140.08"/><path d="M259.73,135.24 L259.83,134.98 L259.92,134.71 L260.02,134.44 L260.12,134.18 L260.21,133.91 L260.31,133.65 L260.41,133.38 L260.51,133.12 L260.61,132.85 L260.71,132.59 L260.81,132.33 L260.92,132.06"/><path d="M263.23,126.89 L263.36,126.64 L263.49,126.38 L263.63,126.13 L263.77,125.88 L263.91,125.63 L264.05,125.38 L264.19,125.14 L264.34,124.90 L264.49,124.66 L264.64,124.43 L264.79,124.20 L264.95,123.97"/><path d="M267.57,120.88 L267.79,120.68 L268.01,120.48 L268.23,120.29 L268.45,120.11 L268.68,119.94 L268.91,119.77 L269.14,119.62 L269.38,119.48 L269.61,119.35 L269.85,119.24 L270.09,119.14 L270.33,119.05"/><path d="M272.78,118.37 L273.06,118.31 L273.35,118.26 L273.64,118.22 L273.93,118.18 L274.22,118.15 L274.50,118.12 L274.78,118.11 L275.05,118.10 L275.32,118.10 L275.60,118.12 L275.87,118.15 L276.14,118.20"/><path d="M281.18,120.25 L281.43,120.36 L281.69,120.48 L281.94,120.60 L282.19,120.72 L282.43,120.85 L282.68,120.98 L282.93,121.11 L283.17,121.24 L283.42,121.38 L283.66,121.52 L283.91,121.66 L284.15,121.80"/><path d="M288.41,124.63 L288.65,124.79 L288.88,124.96 L289.11,125.12 L289.35,125.28 L289.58,125.45 L289.81,125.61 L290.04,125.77 L290.28,125.93 L290.51,126.10 L290.74,126.26 L290.98,126.42 L291.21,126.57"/><path d="M295.77,129.90 L295.99,130.08 L296.22,130.25 L296.44,130.42 L296.67,130.60 L296.89,130.77 L297.11,130.94 L297.34,131.12 L297.56,131.29 L297.78,131.46 L298.01,131.64 L298.23,131.81 L298.45,131.98"/><path d="M303.18,135.57 L303.41,135.74 L303.64,135.90 L303.87,136.07 L304.10,136.23 L304.33,136.39 L304.56,136.56 L304.79,136.72 L305.02,136.88 L305.26,137.03 L305.49,137.19 L305.72,137.35 L305.96,137.50"/><path d="M310.70,140.57 L310.94,140.72 L311.18,140.87 L311.42,141.02 L311.66,141.17 L311.90,141.31 L312.14,141.46 L312.39,141.61 L312.63,141.76 L312.87,141.91 L313.11,142.05 L313.35,142.20 L313.60,142.35"/><path d="M318.74,145.32 L318.99,145.45 L319.23,145.59 L319.48,145.72 L319.73,145.86 L319.98,145.99 L320.23,146.12 L320.47,146.26 L320.72,146.39 L320.97,146.52 L321.22,146.65 L321.47,146.78 L321.72,146.91"/><path d="M326.51,149.33 L326.76,149.46 L327.01,149.58 L327.27,149.70 L327.52,149.83 L327.78,149.95 L328.04,150.07 L328.29,150.19 L328.55,150.31 L328.80,150.43 L329.06,150.55 L329.32,150.67 L329.57,150.79"/><path d="M333.97,152.75 L334.23,152.86 L334.49,152.96 L334.75,153.07 L335.01,153.18 L335.27,153.29 L335.53,153.40 L335.79,153.50 L336.06,153.61 L336.32,153.71 L336.58,153.82 L336.84,153.92 L337.10,154.02"/><path d="M341.07,155.48 L341.33,155.57 L341.60,155.66 L341.87,155.75 L342.14,155.84 L342.40,155.93 L342.67,156.02 L342.94,156.11 L343.21,156.20 L343.48,156.29 L343.74,156.38 L344.01,156.46 L344.28,156.55"/><path d="M348.32,157.84 L348.59,157.93 L348.86,158.02 L349.13,158.10 L349.40,158.19 L349.67,158.27 L349.94,158.36 L350.21,158.45 L350.48,158.53 L350.75,158.62 L351.02,158.71 L351.29,158.80 L351.56,158.89"/><path d="M356.10,160.44 L356.37,160.53 L356.63,160.63 L356.90,160.72 L357.17,160.82 L357.43,160.91 L357.70,161.01 L357.96,161.10 L358.23,161.20 L358.50,161.29 L358.76,161.39 L359.03,161.48 L359.30,161.58"/><path d="M364.10,163.26 L364.36,163.35 L364.63,163.44 L364.90,163.53 L365.17,163.62 L365.43,163.71 L365.70,163.80 L365.97,163.88 L366.24,163.97 L366.51,164.06 L366.78,164.14 L367.04,164.23 L367.31,164.31"/><path d="M371.91,165.68 L372.18,165.75 L372.45,165.83 L372.72,165.91 L373.00,165.98 L373.27,166.06 L373.54,166.13 L373.81,166.21 L374.08,166.29 L374.36,166.36 L374.63,166.43 L374.90,166.51 L375.17,166.58"/><path d="M379.82,167.79 L380.10,167.86 L380.37,167.93 L380.65,167.99 L380.92,168.06 L381.19,168.13 L381.47,168.19 L381.74,168.26 L382.02,168.33 L382.29,168.39 L382.57,168.46 L382.85,168.52 L383.12,168.58"/></g><g stroke="#0000ff"><path d="M45.90,244.90 L46.09,244.90 L46.27,244.90 L46.46,244.90 L46.65,244.90 L46.84,244.90 L47.02,244.90 L47.21,244.90 L47.40,244.90 L47.59,244.90 L47.77,244.90 L47.96,244.90 L48.15,244.90 L48.34,244.90 L48.52,244.90 L48.71,244.90 L48.90,244.90 L49.09,244.90 L49.27,244.90 L49.46,244.90 L49.65,244.90 L49.84,244.90 L50.02,244.90 L50.21,244.90 L50.40,244.90 L50.58,244.90 L50.77,244.90 L50.96,244.90 L51.15,244.90 L51.33,244.90 L51.52,244.90 L51.71,244.90 L51.90,244.90 L52.08,244.90 L52.27,244.90 L52.46,244.90 L52.65,244.90 L52.83,244.90 L53.02,244.90 L53.21,244.90 L53.40,244.90 L53.58,244.90 L53.77,244.90 L53.96,244.90 L54.14,244.90 L54.33,244.90 L54.52,244.90 L54.71,244.90 L54.89,244.90 L55.08,244.90 L55.27,244.90 L55.46,244.90 L55.64,244.90 L55.83,244.90 L56.02,244.90 L56.21,244.90 L56.39,244.90 L56.58,244.90 L56.77,244.90 L56.95,244.90 L57.14,244.90 L57.33,244.90 L57.52,244.90 L57.70,244.90 L57.89,244.90 L58.08,244.90 L58.27,244.90 L58.45,244.90 L58.64,244.90 L58.83,244.90 L59.02,244.90 L59.20,244.90 L59.39,244.90 L59.58,244.90 L59.77,244.90 L59.95,244.90 L60.14,244.90 L60.33,244.90 L60.51,244.90 L60.70,244.90 L60.89,244.90 L61.08,244.90 L61.26,244.90 L61.45,244.90 L61.64,244.90 L61.83,244.90 L62.01,244.90 L62.20,244.90 L62.39,244.90 L62.58,244.90 L62.76,244.90 L62.95,244.90 L63.14,244.90 L63.32,244.90 L63.51,244.90 L63.70,244.90 L63.89,244.90 L64.07,244.90 L64.26,244.90 L64.45,244.90 L64.64,244.90 L64.82,244.90 L65.01,244.90 L65.20,244.90 L65.39,244.90 L65.57,244.90 L65.76,244.90 L65.95,244.90 L66.13,244.90 L66.32,244.90 L66.51,244.90 L66.70,244.90 L66.88,244.90 L67.07,244.90"/><path d="M73.25,244.90 L73.44,244.90 L73.63,244.90 L73.81,244.90 L74.00,244.90 L74.19,244.90 L74.38,244.90 L74.56,244.90 L74.75,244.90 L74.94,244.90 L75.13,244.90 L75.31,244.90 L75.50,244.90 L75.69,244.90 L75.88,244.90 L76.06,244.90 L76.25,244.90 L76.44,244.90 L76.62,244.89 L76.81,244.89"/><path d="M83.55,244.89 L83.74,244.89 L83.93,244.89 L84.12,244.89 L84.30,244.89 L84.49,244.89 L84.68,244.89 L84.86,244.89 L85.05,244.89 L85.24,244.89 L85.43,244.89 L85.61,244.89 L85.80,244.89 L85.99,244.89 L86.18,244.89 L86.36,244.89 L86.55,244.89 L86.74,244.89 L86.93,244.89 L87.11,244.89 L87.30,244.89 L87.49,244.89 L87.67,244.89 L87.86,244.89 L88.05,244.89 L88.24,244.89 L88.42,244.89 L88.61,244.89 L88.80,244.89 L88.99,244.89 L89.17,244.89 L89.36,244.89 L89.55,244.89 L89.73,244.89 L89.92,244.89 L90.11,244.89 L90.30,244.89 L90.48,244.89 L90.67,244.89 L90.86,244.89 L91.04,244.89 L91.23,244.89 L91.42,244.89 L91.61,244.89 L91.79,244.89 L91.98,244.89 L92.17,244.89 L92.36,244.89 L92.54,244.89 L92.73,244.89 L92.92,244.89 L93.10,244.89 L93.29,244.89 L93.48,244.89 L93.67,244.89 L93.85,244.89 L94.04,244.89 L94.23,244.89 L94.42,244.89 L94.60,244.89 L94.79,244.88 L94.98,244.88 L95.16,244.88 L95.35,244.88 L95.54,244.88 L95.73,244.88 L95.91,244.88 L96.10,244.88 L96.29,244.88 L96.48,244.88 L96.66,244.88 L96.85,244.88 L97.04,244.88 L97.22,244.88 L97.41,244.88 L97.60,244.88 L97.79,244.88 L97.97,244.88 L98.16,244.88 L98.35,244.88 L98.54,244.88 L98.72,244.88 L98.91,244.88 L99.10,244.88 L99.28,244.88 L99.47,244.88 L99.66,244.88 L99.85,244.88 L100.03,244.88 L100.22,244.88 L100.41,244.88 L100.59,244.88 L100.78,244.88 L100.97,244.88 L101.16,244.88 L101.34,244.88 L101.53,244.88 L101.72,244.88 L101.91,244.88 L102.09,244.88 L102.28,244.88 L102.47,244.88 L102.65,244.88 L102.84,244.88 L103.03,244.88 L103.22,244.88 L103.40,244.88 L103.59,244.88 L103.78,244.88 L103.97,244.88"/><path d="M110.52,244.87 L110.71,244.87 L110.89,244.87 L111.08,244.87 L111.27,244.87 L111.45,244.87 L111.64,244.87 L111.83,244.87 L112.02,244.87 L112.20,244.87 L112.39,244.87 L112.58,244.87 L112.77,244.87 L112.95,244.87 L113.14,244.87 L113.33,244.87 L113.51,244.87 L113.70,244.87 L113.89,244.87"/><path d="M120.44,244.86 L120.63,244.86 L120.82,244.86 L121.00,244.86 L121.19,244.86 L121.38,244.86 L121.56,244.86 L121.75,244.86 L121.94,244.86 L122.13,244.85 L122.31,244.85 L122.50,244.85 L122.69,244.85 L122.87,244.85 L123.06,244.85 L123.25,244.85 L123.44,244.85 L123.62,244.85 L123.81,244.85 L124.00,244.85 L124.18,244.85 L124.37,244.85 L124.56,244.85 L124.75,244.85 L124.93,244.85 L125.12,244.85 L125.31,244.85 L125.50,244.85 L125.68,244.85 L125.87,244.85 L126.06,244.85 L126.24,244.85 L126.43,244.85 L126.62,244.85 L126.81,244.85 L126.99,244.85 L127.18,244.85 L127.37,244.85 L127.55,244.85 L127.74,244.85 L127.93,244.85 L128.12,244.85 L128.30,244.85 L128.49,244.84 L128.68,244.84 L128.86,244.84 L129.05,244.84 L129.24,244.84 L129.43,244.84 L129.61,244.84 L129.80,244.84 L129.99,244.84 L130.18,244.84 L130.36,244.84 L130.55,244.84 L130.74,244.84 L130.92,244.84 L131.11,244.84 L131.30,244.84 L131.49,244.84 L131.67,244.84 L131.86,244.84 L132.05,244.84 L132.23,244.84 L132.42,244.84 L132.61,244.84 L132.80,244.84 L132.98,244.84 L133.17,244.84 L133.36,244.84 L133.54,244.84 L133.73,244.84 L133.92,244.84 L134.11,244.83 L134.29,244.83 L134.48,244.83 L134.67,244.83 L134.86,244.83 L135.04,244.83 L135.23,244.83 L135.42,244.83 L135.60,244.83 L135.79,244.83 L135.98,244.83 L136.17,244.83 L136.35,244.83 L136.54,244.83 L136.73,244.83 L136.91,244.83 L137.10,244.83 L137.29,244.83 L137.48,244.83 L137.66,244.83 L137.85,244.83 L138.04,244.83 L138.22,244.83 L138.41,244.83 L138.60,244.83 L138.79,244.83 L138.97,244.83 L139.16,244.82 L139.35,244.82 L139.53,244.82 L139.72,244.82 L139.91,244.82 L140.10,244.82 L140.28,244.82 L140.47,244.82 L140.66,244.82 L140.84,244.82 L141.03,244.82 L141.22,244.82 L141.41,244.82 L141.59,244.82 L141.78,244.82"/><path d="M148.52,244.80 L148.71,244.80 L148.89,244.80 L149.08,244.80 L149.27,244.80 L149.45,244.80 L149.64,244.80 L149.83,244.80 L150.02,244.80 L150.20,244.80 L150.39,244.80 L150.58,244.80 L150.76,244.80 L150.95,244.79 L151.14,244.79 L151.33,244.79 L151.51,244.78 L151.70,244.78 L151.89,244.78 L152.08,244.77"/><path d="M159.19,244.47 L159.37,244.46 L159.56,244.45 L159.75,244.44 L159.93,244.43 L160.12,244.43 L160.31,244.42 L160.50,244.41 L160.68,244.40 L160.87,244.39 L161.06,244.38 L161.24,244.37 L161.43,244.36 L161.62,244.35 L161.80,244.34 L161.99,244.33 L162.18,244.32 L162.37,244.32 L162.55,244.31 L162.74,244.30 L162.93,244.29 L163.11,244.28 L163.30,244.27 L163.49,244.27 L163.68,244.26 L163.86,244.25 L164.05,244.24 L164.24,244.23 L164.42,244.23 L164.61,244.22 L164.80,244.21 L164.99,244.20 L165.17,244.19 L165.36,244.19 L165.55,244.18 L165.73,244.17 L165.92,244.16 L166.11,244.15 L166.30,244.15 L166.48,244.14 L166.67,244.13 L166.86,244.12 L167.05,244.12 L167.23,244.11 L167.42,244.10 L167.61,244.09 L167.80,244.08 L167.98,244.08 L168.17,244.07 L168.36,244.06 L168.54,244.05 L168.73,244.04 L168.92,244.04 L169.11,244.03 L169.29,244.02 L169.48,244.01 L169.67,244.00 L169.86,244.00 L170.04,243.99 L170.23,243.98 L170.42,243.97 L170.60,243.96 L170.79,243.95 L170.98,243.94 L171.17,243.94 L171.35,243.93 L171.54,243.92 L171.73,243.91 L171.91,243.90 L172.10,243.89 L172.29,243.88 L172.48,243.87 L172.66,243.86 L172.85,243.85 L173.04,243.84 L173.22,243.84 L173.41,243.83 L173.60,243.82 L173.79,243.81 L173.97,243.80 L174.16,243.79 L174.35,243.78 L174.53,243.77 L174.72,243.75 L174.91,243.74 L175.09,243.73 L175.28,243.72 L175.47,243.71 L175.66,243.70 L175.84,243.69 L176.03,243.68 L176.22,243.67 L176.40,243.66 L176.59,243.64 L176.78,243.63 L176.96,243.62 L177.15,243.61 L177.34,243.60 L177.52,243.58 L177.71,243.57 L177.90,243.56 L178.08,243.54 L178.27,243.53 L178.45,243.52 L178.64,243.50 L178.83,243.49 L179.01,243.48 L179.20,243.46 L179.39,243.45 L179.57,243.43 L179.76,243.42"/><path d="M186.44,242.53 L186.62,242.50 L186.81,242.47 L186.99,242.44 L187.18,242.41 L187.36,242.38 L187.55,242.35 L187.73,242.32 L187.92,242.29 L188.10,242.26 L188.29,242.23 L188.47,242.20 L188.66,242.18 L188.84,242.15 L189.03,242.12 L189.22,242.09 L189.40,242.06 L189.59,242.04 L189.77,242.01"/><path d="M196.25,240.99 L196.44,240.96 L196.62,240.93 L196.81,240.89 L196.99,240.86 L197.17,240.82 L197.36,240.79 L197.54,240.75 L197.72,240.72 L197.91,240.68 L198.09,240.65 L198.27,240.61 L198.46,240.57 L198.64,240.53 L198.82,240.50 L199.00,240.46 L199.19,240.42 L199.37,240.38 L199.55,240.34 L199.74,240.30 L199.92,240.26 L200.10,240.22 L200.29,240.18 L200.47,240.13 L200.66,240.09 L200.84,240.05 L201.02,240.00 L201.21,239.96 L201.39,239.92 L201.58,239.87 L201.76,239.83 L201.95,239.78 L202.13,239.73 L202.31,239.69 L202.50,239.64 L202.68,239.59 L202.86,239.54 L203.04,239.49 L203.23,239.44 L203.41,239.39 L203.59,239.34 L203.77,239.29 L203.95,239.23 L204.13,239.18 L204.31,239.13 L204.49,239.07 L204.67,239.02 L204.85,238.96 L205.03,238.90 L205.20,238.84 L205.38,238.79 L205.56,238.73 L205.73,238.67 L205.91,238.61 L206.08,238.54 L206.25,238.48 L206.43,238.42 L206.60,238.35 L206.77,238.29 L206.94,238.22 L207.11,238.16 L207.28,238.09 L207.45,238.02 L207.62,237.95 L207.79,237.87 L207.95,237.80 L208.12,237.72 L208.29,237.64 L208.46,237.57 L208.63,237.48 L208.80,237.40 L208.97,237.32 L209.14,237.23 L209.31,237.15 L209.48,237.06 L209.64,236.97 L209.81,236.88 L209.98,236.79 L210.15,236.69 L210.31,236.60 L210.48,236.50 L210.65,236.41 L210.81,236.31 L210.98,236.21 L211.14,236.11 L211.30,236.01 L211.47,235.91 L211.63,235.80 L211.79,235.70 L211.95,235.60 L212.11,235.49 L212.27,235.38 L212.43,235.28 L212.59,235.17 L212.74,235.06 L212.90,234.95 L213.06,234.84 L213.21,234.73 L213.36,234.61 L213.52,234.50 L213.67,234.39 L213.82,234.27 L213.97,234.16 L214.11,234.04 L214.26,233.93 L214.40,233.81 L214.55,233.70 L214.69,233.58 L214.83,233.46 L214.97,233.34 L215.11,233.23 L215.25,233.11 L215.39,232.99 L215.52,232.87 L215.65,232.75 L215.79,232.63"/><path d="M220.57,226.61 L220.68,226.45 L220.78,226.29 L220.88,226.14 L220.99,225.98 L221.09,225.82 L221.20,225.66 L221.30,225.51 L221.40,225.35 L221.50,225.20 L221.60,225.04 L221.71,224.88 L221.81,224.73 L221.91,224.57 L222.01,224.41 L222.11,224.26 L222.21,224.10 L222.31,223.94 L222.41,223.78"/><path d="M225.21,218.69 L225.28,218.52 L225.36,218.35 L225.44,218.18 L225.52,218.01 L225.59,217.84 L225.67,217.67 L225.74,217.50 L225.82,217.33 L225.89,217.15 L225.97,216.98 L226.04,216.81 L226.12,216.64 L226.19,216.46 L226.26,216.29 L226.34,216.12 L226.41,215.94 L226.48,215.77 L226.55,215.60 L226.62,215.42 L226.69,215.25 L226.76,215.07 L226.83,214.90 L226.90,214.72 L226.97,214.55 L227.04,214.37 L227.10,214.19 L227.17,214.02 L227.23,213.84 L227.30,213.67 L227.37,213.49 L227.43,213.31 L227.49,213.13 L227.56,212.96 L227.62,212.78 L227.68,212.60 L227.74,212.43 L227.80,212.25 L227.86,212.07 L227.92,211.89 L227.98,211.71 L228.04,211.54 L228.09,211.36 L228.15,211.18 L228.20,211.00 L228.26,210.82 L228.31,210.64 L228.37,210.46 L228.42,210.29 L228.47,210.11 L228.52,209.93 L228.57,209.75 L228.62,209.57 L228.67,209.39 L228.72,209.21 L228.77,209.03 L228.81,208.85 L228.86,208.67 L228.91,208.49 L228.95,208.31 L229.00,208.13 L229.04,207.95 L229.09,207.77 L229.13,207.59 L229.18,207.41 L229.22,207.23 L229.26,207.04 L229.31,206.86 L229.35,206.68 L229.39,206.50 L229.43,206.32 L229.47,206.13 L229.51,205.95 L229.56,205.77 L229.60,205.59 L229.64,205.40 L229.68,205.22 L229.72,205.04 L229.75,204.85 L229.79,204.67 L229.83,204.49 L229.87,204.30 L229.91,204.12 L229.95,203.94 L229.99,203.75 L230.02,203.57 L230.06,203.39 L230.10,203.20 L230.13,203.02 L230.17,202.83 L230.21,202.65 L230.25,202.47 L230.28,202.28 L230.32,202.10 L230.35,201.91 L230.39,201.73 L230.43,201.54 L230.46,201.36 L230.50,201.18 L230.54,200.99 L230.57,200.81 L230.61,200.62 L230.64,200.44 L230.68,200.25 L230.71,200.07 L230.75,199.88 L230.79,199.70 L230.82,199.52 L230.86,199.33 L230.89,199.15 L230.93,198.96 L230.97,198.78 L231.00,198.59 L231.04,198.41 L231.08,198.22 L231.11,198.04 L231.15,197.86 L231.19,197.67 L231.22,197.49 L231.26,197.30 L231.30,197.12 L231.33,196.94 L231.37,196.75 L231.41,196.57 L231.45,196.38 L231.49,196.20 L231.53,196.02 L231.56,195.83 L231.60,195.65 L231.64,195.47 L231.68,195.28"/><path d="M232.41,191.99 L232.45,191.81 L232.49,191.63 L232.54,191.45 L232.58,191.26 L232.62,191.08 L232.66,190.90 L232.70,190.71 L232.74,190.53 L232.78,190.35 L232.82,190.17 L232.86,189.98 L232.91,189.80 L232.95,189.62 L232.99,189.44 L233.03,189.25 L233.07,189.07 L233.11,188.89 L233.15,188.70"/><path d="M234.11,184.12 L234.15,183.94 L234.19,183.76 L234.22,183.57 L234.26,183.39 L234.30,183.21 L234.33,183.02 L234.37,182.84 L234.40,182.65 L234.44,182.47 L234.47,182.29 L234.51,182.10 L234.55,181.92 L234.58,181.74 L234.62,181.55 L234.65,181.37 L234.69,181.18 L234.72,181.00 L234.76,180.82 L234.79,180.63 L234.83,180.45 L234.86,180.27 L234.90,180.08 L234.93,179.90 L234.97,179.71 L235.00,179.53 L235.04,179.35 L235.07,179.16 L235.11,178.98 L235.14,178.79 L235.18,178.61 L235.21,178.43 L235.25,178.24 L235.28,178.06 L235.32,177.87 L235.35,177.69 L235.39,177.51 L235.42,177.32 L235.46,177.14 L235.49,176.95 L235.53,176.77 L235.56,176.58 L235.59,176.40 L235.63,176.22 L235.66,176.03 L235.70,175.85 L235.73,175.66 L235.76,175.48 L235.80,175.29 L235.83,175.11 L235.87,174.93 L235.90,174.74 L235.93,174.56 L235.97,174.37 L236.00,174.19 L236.03,174.00 L236.07,173.82 L236.10,173.64 L236.13,173.45 L236.17,173.27 L236.20,173.08 L236.23,172.90 L236.27,172.71 L236.30,172.53 L236.33,172.35 L236.37,172.16 L236.40,171.98 L236.43,171.79 L236.46,171.61 L236.50,171.42 L236.53,171.24 L236.56,171.05 L236.59,170.87 L236.63,170.69 L236.66,170.50 L236.69,170.32 L236.72,170.13 L236.76,169.95 L236.79,169.76 L236.82,169.58 L236.85,169.39 L236.88,169.21 L236.92,169.02 L236.95,168.84 L236.98,168.65 L237.01,168.47 L237.04,168.29 L237.07,168.10 L237.11,167.92 L237.14,167.73 L237.17,167.55 L237.20,167.36 L237.23,167.18 L237.26,166.99 L237.29,166.81 L237.32,166.62 L237.35,166.44 L237.39,166.25 L237.42,166.07 L237.45,165.88 L237.48,165.70 L237.51,165.51 L237.54,165.33 L237.57,165.14 L237.60,164.96 L237.63,164.77 L237.66,164.59 L237.69,164.41 L237.72,164.22 L237.75,164.04 L237.78,163.85 L237.81,163.67 L237.84,163.48 L237.87,163.30 L237.90,163.11 L237.93,162.93 L237.96,162.74 L237.99,162.56 L238.02,162.37 L238.04,162.19 L238.07,162.00 L238.10,161.82 L238.13,161.63 L238.16,161.45 L238.19,161.26 L238.22,161.08 L238.25,160.89 L238.28,160.71 L238.30,160.52 L238.33,160.34 L238.36,160.15 L238.39,159.97 L238.42,159.78 L238.44,159.60 L238.47,159.41 L238.50,159.23 L238.53,159.04 L238.56,158.86 L238.58,158.67 L238.61,158.49 L238.64,158.30 L238.67,158.11 L238.69,157.93 L238.72,157.74 L238.75,157.56 L238.77,157.37 L238.80,157.19"/><path d="M239.77,150.14 L239.79,149.95 L239.82,149.77 L239.84,149.58 L239.87,149.40 L239.89,149.21 L239.91,149.03 L239.94,148.84 L239.96,148.65 L239.98,148.47 L240.01,148.28 L240.03,148.10 L240.05,147.91 L240.08,147.72 L240.10,147.54 L240.12,147.35 L240.15,147.17 L240.17,146.98 L240.19,146.79"/><path d="M240.90,140.66 L240.93,140.47 L240.95,140.28 L240.97,140.10 L240.99,139.91 L241.01,139.73 L241.03,139.54 L241.04,139.35 L241.06,139.17 L241.08,138.98 L241.10,138.79 L241.12,138.61 L241.14,138.42 L241.16,138.24 L241.18,138.05 L241.20,137.86 L241.22,137.68 L241.24,137.49 L241.25,137.30 L241.27,137.12 L241.29,136.93 L241.31,136.75 L241.33,136.56 L241.35,136.37 L241.36,136.19 L241.38,136.00 L241.40,135.81 L241.42,135.63 L241.44,135.44 L241.45,135.25 L241.47,135.07 L241.49,134.88 L241.51,134.70 L241.52,134.51 L241.54,134.32 L241.56,134.14 L241.57,133.95 L241.59,133.76 L241.61,133.58 L241.63,133.39 L241.64,133.20 L241.66,133.02 L241.68,132.83 L241.69,132.64 L241.71,132.46 L241.73,132.27 L241.74,132.08 L241.76,131.90 L241.78,131.71 L241.79,131.52 L241.81,131.34 L241.83,131.15 L241.84,130.96 L241.86,130.78 L241.88,130.59 L241.89,130.41 L241.91,130.22 L241.93,130.03 L241.94,129.85 L241.96,129.66 L241.98,129.47 L241.99,129.29 L242.01,129.10 L242.02,128.91 L242.04,128.73 L242.06,128.54 L242.07,128.35 L242.09,128.17 L242.11,127.98 L242.12,127.79 L242.14,127.61 L242.15,127.42 L242.17,127.23 L242.19,127.05 L242.20,126.86 L242.22,126.67 L242.24,126.49 L242.25,126.30 L242.27,126.11 L242.29,125.93 L242.30,125.74 L242.32,125.55 L242.33,125.37 L242.35,125.18 L242.37,124.99 L242.38,124.81 L242.40,124.62 L242.42,124.43 L242.43,124.25 L242.45,124.06 L242.47,123.87 L242.48,123.69 L242.50,123.50 L242.52,123.31 L242.54,123.13 L242.55,122.94 L242.57,122.76 L242.59,122.57 L242.60,122.38 L242.62,122.20 L242.64,122.01 L242.66,121.82 L242.67,121.64 L242.69,121.45 L242.71,121.26 L242.72,121.08 L242.74,120.89 L242.76,120.70 L242.78,120.52 L242.80,120.33 L242.81,120.15 L242.83,119.96 L242.85,119.77 L242.87,119.59 L242.89,119.40 L242.90,119.21 L242.92,119.03 L242.94,118.84 L242.96,118.65 L242.98,118.47 L243.00,118.28 L243.02,118.10 L243.03,117.91 L243.05,117.72 L243.07,117.54 L243.09,117.35 L243.11,117.16 L243.13,116.98 L243.15,116.79 L243.17,116.61 L243.19,116.42 L243.21,116.23 L243.23,116.05 L243.25,115.86 L243.27,115.67 L243.29,115.49 L243.31,115.30"/><path d="M243.75,111.58 L243.77,111.40 L243.80,111.21 L243.82,111.03 L243.84,110.84 L243.87,110.65 L243.89,110.47 L243.91,110.28 L243.94,110.10 L243.96,109.91 L243.98,109.73 L244.01,109.54 L244.03,109.35 L244.06,109.17 L244.08,108.98 L244.10,108.80 L244.13,108.61 L244.15,108.43 L244.18,108.24"/><path d="M244.90,102.67 L244.93,102.48 L244.95,102.30 L244.98,102.11 L245.00,101.93 L245.02,101.74 L245.05,101.55 L245.07,101.37 L245.10,101.18 L245.12,101.00 L245.14,100.81 L245.17,100.63 L245.19,100.44 L245.22,100.25 L245.24,100.07 L245.26,99.88 L245.29,99.70 L245.31,99.51 L245.34,99.33 L245.36,99.14 L245.38,98.95 L245.41,98.77 L245.43,98.58 L245.46,98.40 L245.48,98.21 L245.50,98.03 L245.53,97.84 L245.55,97.65 L245.58,97.47 L245.60,97.28 L245.63,97.10 L245.65,96.91 L245.67,96.73 L245.70,96.54 L245.72,96.36 L245.75,96.17 L245.77,95.98 L245.80,95.80 L245.82,95.61 L245.84,95.43 L245.87,95.24 L245.89,95.06 L245.92,94.87 L245.94,94.68 L245.97,94.50 L245.99,94.31 L246.01,94.13 L246.04,93.94 L246.06,93.76 L246.09,93.57 L246.11,93.38 L246.14,93.20 L246.16,93.01 L246.19,92.83 L246.21,92.64 L246.23,92.46 L246.26,92.27 L246.28,92.08 L246.31,91.90 L246.33,91.71 L246.36,91.53 L246.38,91.34 L246.41,91.16 L246.43,90.97 L246.46,90.79 L246.48,90.60 L246.50,90.41 L246.53,90.23 L246.55,90.04 L246.58,89.86 L246.60,89.67 L246.63,89.49 L246.65,89.30 L246.68,89.11 L246.70,88.93 L246.72,88.74 L246.75,88.56 L246.77,88.37 L246.80,88.19 L246.82,88.00 L246.85,87.81 L246.87,87.63 L246.90,87.44 L246.92,87.26 L246.95,87.07 L246.97,86.89 L246.99,86.70 L247.02,86.52 L247.04,86.33 L247.07,86.14 L247.09,85.96 L247.12,85.77 L247.14,85.59 L247.17,85.40 L247.19,85.22 L247.22,85.03 L247.24,84.84 L247.26,84.66 L247.29,84.47 L247.31,84.29 L247.34,84.10 L247.36,83.92 L247.39,83.73 L247.41,83.55 L247.44,83.36 L247.46,83.17 L247.49,82.99 L247.51,82.80 L247.53,82.62 L247.56,82.43 L247.58,82.25 L247.61,82.06 L247.63,81.87 L247.66,81.69 L247.68,81.50 L247.71,81.32 L247.73,81.13 L247.75,80.95 L247.78,80.76 L247.80,80.57"/><path d="M248.36,76.30 L248.38,76.12 L248.40,75.93 L248.43,75.75 L248.45,75.56 L248.47,75.37 L248.50,75.19 L248.52,75.00 L248.55,74.82 L248.57,74.63 L248.59,74.45 L248.62,74.26 L248.64,74.07 L248.67,73.89 L248.69,73.70 L248.71,73.52 L248.74,73.33 L248.76,73.15 L248.79,72.96"/><path d="M249.49,67.76 L249.52,67.58 L249.54,67.39 L249.57,67.21 L249.60,67.02 L249.62,66.84 L249.65,66.65 L249.68,66.47 L249.70,66.28 L249.73,66.10 L249.75,65.91 L249.78,65.72 L249.81,65.54 L249.83,65.35 L249.86,65.17 L249.89,64.98 L249.91,64.80 L249.94,64.61 L249.97,64.43 L249.99,64.24 L250.02,64.06 L250.04,63.87 L250.07,63.68 L250.10,63.50 L250.12,63.31 L250.15,63.13 L250.18,62.94 L250.20,62.76 L250.23,62.57 L250.26,62.39 L250.28,62.20 L250.31,62.01 L250.34,61.83 L250.36,61.64 L250.39,61.46 L250.42,61.27 L250.44,61.09 L250.47,60.90 L250.50,60.71 L250.52,60.53 L250.55,60.34 L250.58,60.16 L250.60,59.97 L250.63,59.79 L250.66,59.60 L250.69,59.42 L250.71,59.23 L250.74,59.05 L250.77,58.86 L250.80,58.67 L250.82,58.49 L250.85,58.30 L250.88,58.12 L250.91,57.93 L250.93,57.75 L250.96,57.56 L250.99,57.38 L251.02,57.19 L251.04,57.01 L251.07,56.82 L251.10,56.63 L251.13,56.45 L251.16,56.26 L251.18,56.08 L251.21,55.89 L251.24,55.71 L251.27,55.52 L251.30,55.34 L251.33,55.15 L251.36,54.97 L251.39,54.78 L251.41,54.60 L251.44,54.41 L251.47,54.23 L251.50,54.04 L251.53,53.86 L251.56,53.67 L251.59,53.49 L251.62,53.30 L251.65,53.12 L251.68,52.93 L251.71,52.75 L251.74,52.56 L251.77,52.38 L251.80,52.19 L251.83,52.01 L251.86,51.82 L251.89,51.64 L251.92,51.45 L251.95,51.27 L251.98,51.08 L252.01,50.90 L252.05,50.71 L252.08,50.53 L252.11,50.34 L252.14,50.16 L252.17,49.98 L252.20,49.79 L252.23,49.61 L252.27,49.42 L252.30,49.24 L252.33,49.05 L252.36,48.87 L252.40,48.69 L252.43,48.50 L252.46,48.32 L252.50,48.13 L252.53,47.95 L252.56,47.77 L252.60,47.58 L252.63,47.40 L252.66,47.21 L252.70,47.03 L252.73,46.85 L252.76,46.66 L252.80,46.48 L252.83,46.29 L252.87,46.11 L252.90,45.93 L252.94,45.74 L252.97,45.56 L253.01,45.38 L253.04,45.19 L253.08,45.01 L253.12,44.83 L253.15,44.64 L253.19,44.46"/><path d="M254.48,38.17 L254.52,37.99 L254.56,37.80 L254.61,37.62 L254.65,37.43 L254.69,37.25 L254.73,37.07 L254.78,36.88 L254.82,36.70 L254.86,36.51 L254.91,36.33 L254.95,36.15 L255.00,35.96 L255.04,35.78 L255.09,35.60 L255.14,35.42 L255.18,35.23 L255.23,35.05 L255.28,34.87"/><path d="M256.88,29.75 L256.95,29.58 L257.01,29.40 L257.08,29.22 L257.15,29.04 L257.22,28.86 L257.29,28.67 L257.36,28.49 L257.43,28.30 L257.51,28.11 L257.59,27.92 L257.66,27.72 L257.74,27.53 L257.83,27.34 L257.91,27.15 L257.99,26.96 L258.08,26.76 L258.17,26.58 L258.25,26.39 L258.35,26.20 L258.44,26.02 L258.53,25.84 L258.63,25.67 L258.73,25.49 L258.83,25.32 L258.93,25.16 L259.03,25.00 L259.14,24.84 L259.24,24.69 L259.35,24.55 L259.46,24.41 L259.58,24.27 L259.69,24.15 L259.81,24.03 L259.93,23.91 L260.05,23.81 L260.17,23.71 L260.30,23.62 L260.43,23.54 L260.56,23.47 L260.70,23.40 L260.86,23.33 L261.03,23.25 L261.20,23.19 L261.39,23.12 L261.58,23.06 L261.77,23.00 L261.97,22.95 L262.17,22.90 L262.36,22.86 L262.55,22.83 L262.74,22.81 L262.92,22.80 L263.10,22.80 L263.27,22.82 L263.45,22.84 L263.63,22.88 L263.80,22.93 L263.98,22.99 L264.16,23.05 L264.34,23.13 L264.51,23.21 L264.69,23.30 L264.86,23.40 L265.04,23.50 L265.21,23.61 L265.38,23.72 L265.54,23.83 L265.71,23.94 L265.87,24.06 L266.02,24.17 L266.18,24.29 L266.33,24.41 L266.47,24.52 L266.61,24.63 L266.75,24.74 L266.88,24.85 L267.01,24.97 L267.14,25.09 L267.27,25.21 L267.39,25.34 L267.51,25.47 L267.63,25.61 L267.75,25.75 L267.87,25.89 L267.98,26.04 L268.10,26.19 L268.21,26.34 L268.32,26.49 L268.43,26.65 L268.54,26.80 L268.65,26.96 L268.75,27.13 L268.86,27.29 L268.96,27.45 L269.07,27.61 L269.17,27.78 L269.28,27.94 L269.38,28.11 L269.48,28.27 L269.59,28.44 L269.69,28.60 L269.79,28.77 L269.89,28.93 L270.00,29.09 L270.10,29.25 L270.21,29.41 L270.31,29.57 L270.41,29.72"/><path d="M274.01,35.42 L274.11,35.58 L274.20,35.74 L274.30,35.90 L274.40,36.06 L274.49,36.22 L274.59,36.38 L274.69,36.54 L274.78,36.70 L274.88,36.87 L274.98,37.03 L275.08,37.19 L275.17,37.35 L275.27,37.51 L275.37,37.67 L275.46,37.83 L275.56,37.99 L275.66,38.15 L275.76,38.31 L275.86,38.47 L275.95,38.63 L276.05,38.78 L276.15,38.94 L276.25,39.10 L276.35,39.26 L276.45,39.42 L276.55,39.58 L276.65,39.74 L276.75,39.90 L276.85,40.05 L276.95,40.21 L277.05,40.37 L277.15,40.53 L277.25,40.69 L277.35,40.85 L277.45,41.00 L277.55,41.16 L277.65,41.32 L277.75,41.48 L277.85,41.64 L277.95,41.80 L278.05,41.95 L278.15,42.11 L278.25,42.27 L278.35,42.43 L278.45,42.59 L278.55,42.74 L278.65,42.90 L278.75,43.06 L278.85,43.22 L278.95,43.38 L279.05,43.53 L279.15,43.69 L279.26,43.85 L279.36,44.01 L279.46,44.17 L279.56,44.32 L279.66,44.48 L279.76,44.64 L279.86,44.80 L279.96,44.95 L280.06,45.11 L280.16,45.27 L280.26,45.43 L280.36,45.59 L280.46,45.74 L280.56,45.90 L280.67,46.06 L280.77,46.22 L280.87,46.38 L280.97,46.53 L281.07,46.69 L281.17,46.85 L281.27,47.01 L281.37,47.16 L281.47,47.32 L281.57,47.48 L281.67,47.64 L281.77,47.80 L281.88,47.95 L281.98,48.11 L282.08,48.27 L282.18,48.43 L282.28,48.58 L282.38,48.74 L282.48,48.90 L282.58,49.06 L282.68,49.22 L282.78,49.37 L282.88,49.53 L282.99,49.69 L283.09,49.85 L283.19,50.00 L283.29,50.16 L283.39,50.32 L283.49,50.48 L283.59,50.64 L283.69,50.79 L283.79,50.95 L283.89,51.11 L283.99,51.27 L284.09,51.42 L284.20,51.58"/><path d="M288.25,58.12 L288.35,58.28 L288.45,58.44 L288.54,58.60 L288.64,58.76 L288.74,58.92 L288.84,59.08 L288.93,59.24 L289.03,59.40 L289.13,59.56 L289.23,59.72 L289.33,59.88 L289.43,60.04 L289.52,60.20 L289.62,60.36 L289.72,60.52 L289.82,60.68 L289.92,60.84 L290.02,61.00"/><path d="M294.09,67.03 L294.20,67.18 L294.32,67.33 L294.43,67.47 L294.54,67.62 L294.65,67.77 L294.77,67.92 L294.88,68.06 L295.00,68.21 L295.11,68.36 L295.23,68.50 L295.34,68.65 L295.46,68.80 L295.57,68.94 L295.69,69.09 L295.81,69.23 L295.92,69.38 L296.04,69.53 L296.16,69.67 L296.28,69.81 L296.39,69.96 L296.51,70.10 L296.63,70.25 L296.75,70.39 L296.87,70.54 L296.99,70.68 L297.11,70.82 L297.23,70.97 L297.35,71.11 L297.47,71.25 L297.59,71.40 L297.71,71.54 L297.83,71.68 L297.95,71.82 L298.08,71.97 L298.20,72.11 L298.32,72.25 L298.44,72.39 L298.57,72.53 L298.69,72.67 L298.81,72.82 L298.94,72.96 L299.06,73.10 L299.18,73.24 L299.31,73.38 L299.43,73.52 L299.55,73.66 L299.68,73.80 L299.80,73.94 L299.93,74.08 L300.05,74.22 L300.18,74.36 L300.30,74.50 L300.43,74.64 L300.55,74.78 L300.68,74.92 L300.80,75.06 L300.93,75.20 L301.06,75.34 L301.18,75.48 L301.31,75.62 L301.43,75.76 L301.56,75.90 L301.69,76.04 L301.81,76.18 L301.94,76.32 L302.07,76.46 L302.19,76.60 L302.32,76.74 L302.44,76.88 L302.57,77.01 L302.70,77.15 L302.83,77.29 L302.95,77.43 L303.08,77.57 L303.21,77.71 L303.33,77.85 L303.46,77.99 L303.59,78.12 L303.71,78.26 L303.84,78.40 L303.97,78.54 L304.09,78.68 L304.22,78.82 L304.35,78.96 L304.47,79.10 L304.60,79.23 L304.73,79.37 L304.85,79.51 L304.98,79.65 L305.11,79.79 L305.23,79.93 L305.36,80.07 L305.49,80.20 L305.61,80.34 L305.74,80.48 L305.87,80.62 L305.99,80.76 L306.12,80.90 L306.24,81.04 L306.37,81.18 L306.49,81.32 L306.62,81.46 L306.75,81.59 L306.87,81.73 L307.00,81.87 L307.12,82.01 L307.25,82.15 L307.37,82.29 L307.50,82.43"/><path d="M311.35,86.79 L311.48,86.93 L311.61,87.07 L311.73,87.21 L311.86,87.34 L311.98,87.48 L312.11,87.62 L312.24,87.76 L312.36,87.90 L312.49,88.04 L312.62,88.17 L312.75,88.31 L312.87,88.45 L313.00,88.58 L313.13,88.72 L313.26,88.85 L313.39,88.99 L313.52,89.12 L313.65,89.26 L313.78,89.39 L313.91,89.53 L314.04,89.66 L314.17,89.79 L314.30,89.93 L314.43,90.06 L314.56,90.19 L314.70,90.32 L314.83,90.45 L314.96,90.58 L315.10,90.71 L315.23,90.84 L315.36,90.97 L315.50,91.10 L315.63,91.23 L315.77,91.35 L315.91,91.48 L316.04,91.61 L316.18,91.73 L316.32,91.86 L316.46,91.98 L316.59,92.11 L316.73,92.23 L316.87,92.36 L317.01,92.48 L317.15,92.60 L317.29,92.73 L317.43,92.85 L317.57,92.97 L317.72,93.09 L317.86,93.21 L318.00,93.33 L318.14,93.46 L318.29,93.58 L318.43,93.70 L318.57,93.82 L318.72,93.94 L318.86,94.05 L319.01,94.17 L319.15,94.29 L319.29,94.41 L319.44,94.53 L319.59,94.65 L319.73,94.77 L319.88,94.88 L320.02,95.00 L320.17,95.12 L320.32,95.24 L320.46,95.35 L320.61,95.47 L320.76,95.59 L320.90,95.70 L321.05,95.82 L321.20,95.94 L321.34,96.05 L321.49,96.17 L321.64,96.29 L321.79,96.40 L321.93,96.52 L322.08,96.63 L322.23,96.75 L322.38,96.87 L322.52,96.98 L322.67,97.10 L322.82,97.22 L322.97,97.33 L323.12,97.45 L323.26,97.56 L323.41,97.68 L323.56,97.80 L323.71,97.91 L323.85,98.03 L324.00,98.15 L324.15,98.26 L324.29,98.38 L324.44,98.50 L324.59,98.61 L324.74,98.73 L324.88,98.85 L325.03,98.97 L325.17,99.08 L325.32,99.20 L325.47,99.32 L325.61,99.44 L325.76,99.55 L325.90,99.67 L326.05,99.79 L326.19,99.91 L326.34,100.03 L326.48,100.15 L326.63,100.27 L326.77,100.39 L326.91,100.51 L327.06,100.63 L327.20,100.75"/><path d="M332.01,104.92 L332.15,105.04 L332.30,105.17 L332.44,105.29 L332.58,105.42 L332.72,105.54 L332.86,105.66 L333.00,105.79 L333.14,105.91 L333.28,106.03 L333.42,106.16 L333.56,106.28 L333.71,106.40 L333.85,106.53 L333.99,106.65 L334.13,106.77 L334.27,106.90 L334.41,107.02 L334.55,107.14"/><path d="M339.56,111.37 L339.70,111.48 L339.85,111.60 L339.99,111.72 L340.14,111.84 L340.29,111.96 L340.43,112.07 L340.58,112.19 L340.72,112.31 L340.87,112.43 L341.01,112.55 L341.16,112.66 L341.30,112.78 L341.45,112.90 L341.60,113.02 L341.74,113.14 L341.89,113.26 L342.03,113.38 L342.18,113.49 L342.32,113.61 L342.47,113.73 L342.62,113.85 L342.76,113.97 L342.91,114.09 L343.06,114.20 L343.20,114.32 L343.35,114.44 L343.49,114.56 L343.64,114.68 L343.79,114.79 L343.93,114.91 L344.08,115.03 L344.23,115.15 L344.38,115.26 L344.52,115.38 L344.67,115.50 L344.82,115.61 L344.97,115.73 L345.11,115.85 L345.26,115.96 L345.41,116.08 L345.56,116.19 L345.70,116.31 L345.85,116.43 L346.00,116.54 L346.15,116.65 L346.30,116.77 L346.45,116.88 L346.60,117.00 L346.75,117.11 L346.90,117.22 L347.04,117.34 L347.19,117.45 L347.34,117.56 L347.49,117.67 L347.64,117.79 L347.80,117.90 L347.95,118.01 L348.10,118.12 L348.25,118.23 L348.40,118.34 L348.55,118.45 L348.70,118.56 L348.85,118.67 L349.01,118.78 L349.16,118.88 L349.31,118.99 L349.46,119.10 L349.62,119.21 L349.77,119.31 L349.92,119.42 L350.08,119.52 L350.23,119.63 L350.39,119.73 L350.54,119.84 L350.69,119.94 L350.85,120.04 L351.00,120.14 L351.16,120.24 L351.32,120.35 L351.47,120.45 L351.63,120.55 L351.79,120.65 L351.94,120.75 L352.10,120.84 L352.26,120.94 L352.42,121.04 L352.57,121.14 L352.73,121.23 L352.89,121.33 L353.05,121.43 L353.21,121.52 L353.37,121.62 L353.53,121.71 L353.69,121.81 L353.85,121.90 L354.01,122.00 L354.17,122.09 L354.34,122.18 L354.50,122.28 L354.66,122.37 L354.82,122.46 L354.99,122.55 L355.15,122.64 L355.31,122.74 L355.47,122.83 L355.64,122.92 L355.80,123.01 L355.97,123.10 L356.13,123.19 L356.29,123.28 L356.46,123.37 L356.62,123.46 L356.79,123.55 L356.95,123.64 L357.12,123.72 L357.28,123.81 L357.45,123.90 L357.61,123.99 L357.78,124.08 L357.95,124.16 L358.11,124.25 L358.28,124.34 L358.44,124.43 L358.61,124.51 L358.78,124.60 L358.94,124.69 L359.11,124.77 L359.28,124.86 L359.44,124.95 L359.61,125.03 L359.78,125.12 L359.94,125.21 L360.11,125.29 L360.28,125.38 L360.44,125.47 L360.61,125.55 L360.78,125.64 L360.95,125.72 L361.11,125.81 L361.28,125.90 L361.45,125.98 L361.61,126.07 L361.78,126.15 L361.95,126.24 L362.12,126.32 L362.28,126.41 L362.45,126.50 L362.62,126.58 L362.79,126.67 L362.95,126.76 L363.12,126.84 L363.29,126.93 L363.45,127.01 L363.62,127.10 L363.79,127.19 L363.95,127.27 L364.12,127.36 L364.29,127.45 L364.45,127.54 L364.62,127.62 L364.79,127.71 L364.95,127.80 L365.12,127.89 L365.28,127.97 L365.45,128.06 L365.61,128.15 L365.78,128.24 L365.94,128.33 L366.11,128.42 L366.27,128.50 L366.44,128.59 L366.60,128.68 L366.77,128.77 L366.93,128.86"/><path d="M372.99,132.22 L373.16,132.31 L373.32,132.40 L373.48,132.50 L373.65,132.59 L373.81,132.68 L373.98,132.77 L374.14,132.86 L374.30,132.95 L374.47,133.04 L374.63,133.13 L374.80,133.22 L374.96,133.31 L375.12,133.40 L375.29,133.49 L375.45,133.58 L375.62,133.67 L375.78,133.76 L375.95,133.85"/><path d="M381.54,136.90 L381.70,136.99 L381.86,137.08 L382.03,137.16 L382.19,137.25 L382.36,137.34 L382.52,137.43 L382.69,137.52 L382.85,137.61 L383.02,137.70 L383.18,137.79 L383.35,137.88 L383.51,137.97 L383.68,138.06 L383.84,138.14 L384.01,138.23 L384.17,138.32 L384.34,138.41 L384.50,138.50"/></g><line x1="164" y1="40.5" x2="197.3" y2="40.5" stroke="#000"/><line x1="163.9" y1="53" x2="193" y2="53" stroke="#ff0000" stroke-dasharray="3.5 4.95"/><line x1="164" y1="65.4" x2="184.2" y2="65.4" stroke="#0000ff"/><line x1="190.9" y1="65.4" x2="194.4" y2="65.4" stroke="#0000ff"/></g><g font-family="Liberation Serif, serif" fill="#000"><text x="38.5" y="248.4" font-size="12.2" text-anchor="end" >0</text><text x="38.5" y="210.15" font-size="12.2" text-anchor="end" >2</text><text x="38.5" y="171.9" font-size="12.2" text-anchor="end" >4</text><text x="38.5" y="133.65" font-size="12.2" text-anchor="end" >6</text><text x="38.5" y="95.4" font-size="12.2" text-anchor="end" >8</text><text x="26.6" y="57.15" font-size="12.2" text-anchor="start" textLength="12.0" lengthAdjust="spacingAndGlyphs" >10</text><text x="26.6" y="18.9" font-size="12.2" text-anchor="start" textLength="12.0" lengthAdjust="spacingAndGlyphs" >12</text><text x="45.7" y="260.9" font-size="12.2" text-anchor="middle" >0</text><text x="113.4" y="260.9" font-size="12.2" text-anchor="middle" >0.05</text><text x="181.1" y="260.9" font-size="12.2" text-anchor="middle" >0.1</text><text x="248.8" y="260.9" font-size="12.2" text-anchor="middle" >0.15</text><text x="316.5" y="260.9" font-size="12.2" text-anchor="middle" >0.2</text><text x="384.2" y="260.9" font-size="12.2" text-anchor="middle" >0.25</text><text x="190.5" y="278.9" font-size="11.6" text-anchor="start" font-weight="bold" textLength="7.8" lengthAdjust="spacingAndGlyphs" >T</text><text x="203.4" y="278.9" font-size="11.5" text-anchor="start" >(</text><text x="208.2" y="278.9" font-size="11.6" text-anchor="start" font-weight="bold" textLength="28.8" lengthAdjust="spacingAndGlyphs" >GeV</text><text x="237.2" y="278.9" font-size="11.5" text-anchor="start" >)</text><text x="116.5" y="43.5" font-size="11.6" text-anchor="start" font-weight="bold" textLength="16.4" lengthAdjust="spacingAndGlyphs" >eB</text><text x="136.7" y="43.5" font-size="11.6" text-anchor="start" font-weight="bold" textLength="10.2" lengthAdjust="spacingAndGlyphs" >=</text><text x="149.0" y="43.5" font-size="11.6" text-anchor="start" font-weight="bold" textLength="7.0" lengthAdjust="spacingAndGlyphs" >0</text><text x="66.7" y="55.7" font-size="11.6" text-anchor="start" font-weight="bold" textLength="16.2" lengthAdjust="spacingAndGlyphs" >eB</text><text x="86.6" y="55.7" font-size="11.6" text-anchor="start" font-weight="bold" textLength="10.2" lengthAdjust="spacingAndGlyphs" >=</text><text x="100.3" y="55.7" font-size="11.6" text-anchor="start" font-weight="bold" textLength="16.8" lengthAdjust="spacingAndGlyphs" >0.6</text><text x="122.5" y="55.7" font-size="11.6" text-anchor="start" font-weight="bold" textLength="27.0" lengthAdjust="spacingAndGlyphs" >GeV</text><text x="150.4" y="51.400000000000006" font-size="7.2" text-anchor="start" font-weight="bold" textLength="4.8" lengthAdjust="spacingAndGlyphs" >2</text><text x="66.7" y="67.5" font-size="11.6" text-anchor="start" font-weight="bold" textLength="16.2" lengthAdjust="spacingAndGlyphs" >eB</text><text x="86.6" y="67.5" font-size="11.6" text-anchor="start" font-weight="bold" textLength="10.2" lengthAdjust="spacingAndGlyphs" >=</text><text x="100.3" y="67.5" font-size="11.6" text-anchor="start" font-weight="bold" textLength="16.8" lengthAdjust="spacingAndGlyphs" >1.0</text><text x="122.5" y="67.5" font-size="11.6" text-anchor="start" font-weight="bold" textLength="27.0" lengthAdjust="spacingAndGlyphs" >GeV</text><text x="150.4" y="63.2" font-size="7.2" text-anchor="start" font-weight="bold" textLength="4.8" lengthAdjust="spacingAndGlyphs" >2</text><g transform="translate(11.9,184.4) rotate(-90)"><text x="0" y="0" font-size="11.6" text-anchor="start" font-weight="bold" textLength="6.9" lengthAdjust="spacingAndGlyphs" >h</text><text x="8.6" y="0" font-size="11.5" text-anchor="start" >[</text><text x="13.1" y="0" font-size="11.6" text-anchor="start" font-weight="bold" textLength="12.2" lengthAdjust="spacingAndGlyphs" >M</text><text x="26.1" y="-4.9" font-size="8" text-anchor="start" font-weight="bold" textLength="11.4" lengthAdjust="spacingAndGlyphs" >Fit</text><text x="37.4" y="0" font-size="11.5" text-anchor="start" >(</text><text x="43.6" y="0" font-size="11.6" text-anchor="start" font-weight="bold" textLength="9.2" lengthAdjust="spacingAndGlyphs" >B</text><text x="54.6" y="0" font-size="11.5" text-anchor="start" >,</text><text x="59.4" y="0" font-size="11.6" text-anchor="start" font-weight="bold" textLength="9.2" lengthAdjust="spacingAndGlyphs" >T</text><text x="69.8" y="0" font-size="11.5" text-anchor="start" >)</text><text x="75.8" y="0" font-size="11.5" text-anchor="start" >,</text><text x="82.2" y="0" font-size="11.6" text-anchor="start" font-weight="bold" textLength="8.8" lengthAdjust="spacingAndGlyphs" >B</text><text x="92.6" y="0" font-size="11.5" text-anchor="start" >,</text><text x="97.8" y="0" font-size="11.6" text-anchor="start" font-weight="bold" textLength="8.8" lengthAdjust="spacingAndGlyphs" >T</text><text x="107.6" y="0" font-size="11.5" text-anchor="start" >]</text></g></g></svg>
</body></html>
